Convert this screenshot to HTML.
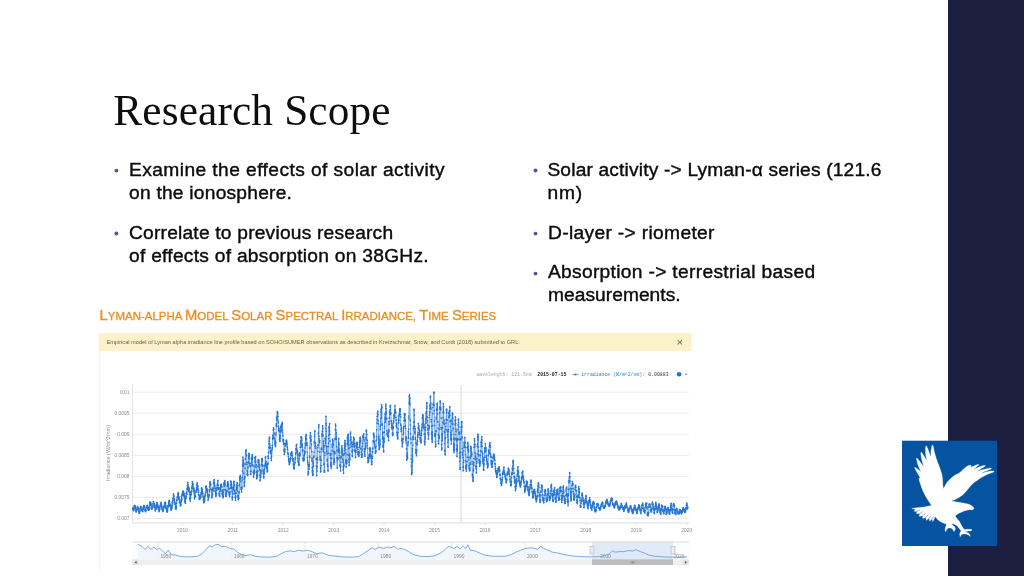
<!DOCTYPE html>
<html lang="en"><head><meta charset="utf-8"><title>Research Scope</title>
<style>
html,body{margin:0;padding:0;}
body{width:1024px;height:576px;overflow:hidden;background:#fff;position:relative;font-family:"Liberation Sans",sans-serif;color:#0a0a0a;}
.bar{position:absolute;left:948.2px;top:0;width:75.8px;height:576px;background:#1c1e3f;}
h1{position:absolute;left:113.3px;top:85.6px;margin:0;font:normal 43.3px/48px "Liberation Serif",serif;color:#0d0d0d;white-space:nowrap;letter-spacing:0.15px;}
.ln{position:absolute;white-space:nowrap;font-size:19.2px;line-height:23px;color:#0b0b0b;-webkit-text-stroke:0.4px #0b0b0b;}
.bl{position:absolute;width:3.8px;height:3.8px;border-radius:50%;background:#4f62a8;}
svg{position:absolute;left:0;top:0;}
</style></head><body>
<div class="bar"></div>
<h1>Research Scope</h1>
<div class="ln" id="l1" style="left:129.0px;top:157.85px;letter-spacing:0.422px">Examine the effects of solar activity</div>
<div class="ln" id="l2" style="left:129.0px;top:180.85px;letter-spacing:0.235px">on the ionosphere.</div>
<div class="ln" id="l3" style="left:129.0px;top:220.55px;letter-spacing:0.207px">Correlate to previous research</div>
<div class="ln" id="l4" style="left:129.0px;top:243.55px;letter-spacing:0.267px">of effects of absorption on 38GHz.</div>
<div class="ln" id="r1" style="left:547.4px;top:157.85px;letter-spacing:0.168px">Solar activity -&gt; Lyman-α series (121.6</div>
<div class="ln" id="r2" style="left:547.6px;top:180.85px;letter-spacing:0.7px">nm)</div>
<div class="ln" id="r3" style="left:548.0px;top:220.55px;letter-spacing:0.333px">D-layer -&gt; riometer</div>
<div class="ln" id="r4" style="left:547.9px;top:260.35px;letter-spacing:0.32px">Absorption -&gt; terrestrial based</div>
<div class="ln" id="r5" style="left:548.0px;top:283.35px;letter-spacing:0.033px">measurements.</div>

<svg width="1024" height="576" viewBox="0 0 1024 576">
<defs><filter id="soft" x="-2%" y="-5%" width="104%" height="110%"><feGaussianBlur stdDeviation="0.45"/></filter>
<filter id="soft2"><feGaussianBlur stdDeviation="0.35"/></filter></defs>
<g fill="#4c58a4"><circle cx="116.4" cy="170.6" r="1.95"/><circle cx="116.4" cy="233.5" r="1.95"/><circle cx="535.5" cy="170.5" r="1.95"/><circle cx="535.5" cy="233.6" r="1.95"/><circle cx="535.5" cy="273.6" r="1.95"/></g>
<!-- chart image frame -->
<rect x="99.2" y="351" width="1" height="220" fill="#f0f0f0"/>
<!-- chart heading -->
<g filter="url(#soft2)">
<text id="ct" x="99.6" y="320.4" font-family="Liberation Sans, sans-serif" fill="#e98e22" stroke="#e98e22" stroke-width="0.3" font-size="11px" textLength="396.6" lengthAdjust="spacingAndGlyphs"><tspan font-size="14.2px">L</tspan>YMAN-ALPHA <tspan font-size="14.2px">M</tspan>ODEL <tspan font-size="14.2px">S</tspan>OLAR <tspan font-size="14.2px">S</tspan>PECTRAL <tspan font-size="14.2px">I</tspan>RRADIANCE, <tspan font-size="14.2px">T</tspan>IME <tspan font-size="14.2px">S</tspan>ERIES</text>
<rect x="98.6" y="332.9" width="593" height="18.2" rx="1.5" fill="#fdf1c9"/>
<text x="106.4" y="343.6" font-family="Liberation Sans, sans-serif" font-size="5.4px" fill="#686352" textLength="413.5" lengthAdjust="spacingAndGlyphs">Empirical model of Lyman alpha irradiance line profile based on SOHO/SUMER observations as described in Kretzschmar, Snow, and Curdt (2018) submitted to GRL.</text>
<text x="679.8" y="345.9" text-anchor="middle" font-family="Liberation Sans, sans-serif" font-size="11px" fill="#6b6450">×</text>
</g>
<!-- legend -->
<g font-family="Liberation Mono, monospace" font-size="4.85px" filter="url(#soft2)">
<text x="476.4" y="376.1" fill="#a5a5a5">wavelength: 121.5nm</text>
<text x="537.3" y="376.1" fill="#222" font-weight="bold">2015-07-15</text>
<path d="M572.5 374.5h5.8" stroke="#2f7ed8" stroke-width="0.7"/><circle cx="575.4" cy="374.5" r="1" fill="#2f7ed8"/>
<text x="581.2" y="376.1" fill="#2f7ed8">irradiance (W/m^2/nm):</text>
<text x="648.2" y="376.1" fill="#333">0.00883</text>
<circle cx="679.1" cy="374.3" r="2.3" fill="#2a6fd0"/>
<path d="M685 374.2h2.4" stroke="#2a6fd0" stroke-width="0.8"/>
</g>
<!-- grid -->
<g stroke="#ececec" stroke-width="1"><line x1="132.5" x2="689" y1="392.2" y2="392.2"/><line x1="132.5" x2="689" y1="413.2" y2="413.2"/><line x1="132.5" x2="689" y1="434.3" y2="434.3"/><line x1="132.5" x2="689" y1="455.4" y2="455.4"/><line x1="132.5" x2="689" y1="476.4" y2="476.4"/><line x1="132.5" x2="689" y1="497.4" y2="497.4"/><line x1="132.5" x2="689" y1="518.5" y2="518.5"/></g>
<line x1="132.5" x2="132.5" y1="384" y2="523" stroke="#e2e4e8" stroke-width="1"/>
<line x1="132.5" x2="689" y1="523" y2="523" stroke="#dcdcdc" stroke-width="1"/>
<g stroke="#dcdcdc" stroke-width="0.8"><line x1="182.4" x2="182.4" y1="523" y2="525.5"/><line x1="232.8" x2="232.8" y1="523" y2="525.5"/><line x1="283.3" x2="283.3" y1="523" y2="525.5"/><line x1="333.7" x2="333.7" y1="523" y2="525.5"/><line x1="384.1" x2="384.1" y1="523" y2="525.5"/><line x1="434.6" x2="434.6" y1="523" y2="525.5"/><line x1="485.0" x2="485.0" y1="523" y2="525.5"/><line x1="535.4" x2="535.4" y1="523" y2="525.5"/><line x1="585.8" x2="585.8" y1="523" y2="525.5"/><line x1="636.3" x2="636.3" y1="523" y2="525.5"/><line x1="686.7" x2="686.7" y1="523" y2="525.5"/></g>
<line x1="461" x2="461" y1="385" y2="523" stroke="#cdcdcd" stroke-width="0.8"/>
<g font-family="Liberation Sans, sans-serif" font-size="4.9px" fill="#8a8a8a" filter="url(#soft2)"><text x="129.5" y="393.9" text-anchor="end">0.01</text><text x="129.5" y="414.9" text-anchor="end">0.0095</text><text x="129.5" y="436.0" text-anchor="end">0.009</text><text x="129.5" y="457.1" text-anchor="end">0.0085</text><text x="129.5" y="478.1" text-anchor="end">0.008</text><text x="129.5" y="499.1" text-anchor="end">0.0075</text><text x="129.5" y="520.2" text-anchor="end">0.007</text><text x="182.4" y="531.6" text-anchor="middle">2010</text><text x="232.8" y="531.6" text-anchor="middle">2011</text><text x="283.3" y="531.6" text-anchor="middle">2012</text><text x="333.7" y="531.6" text-anchor="middle">2013</text><text x="384.1" y="531.6" text-anchor="middle">2014</text><text x="434.6" y="531.6" text-anchor="middle">2015</text><text x="485.0" y="531.6" text-anchor="middle">2016</text><text x="535.4" y="531.6" text-anchor="middle">2017</text><text x="585.8" y="531.6" text-anchor="middle">2018</text><text x="636.3" y="531.6" text-anchor="middle">2019</text><text x="686.7" y="531.6" text-anchor="middle">2020</text>
<text transform="translate(110.3,481) rotate(-90)" textLength="56" lengthAdjust="spacingAndGlyphs">Irradiance (W/m^2/nm)</text></g>
<!-- main series -->
<g filter="url(#soft)"><polyline points="132.60,508.0 132.75,508.4 132.90,509.3 133.06,509.7 133.21,509.7 133.36,509.0 133.51,510.7 133.66,509.1 133.82,510.3 133.97,508.2 134.12,506.3 134.27,506.1 134.42,505.4 134.58,507.0 134.73,506.6 134.88,506.3 135.03,505.7 135.18,506.3 135.34,507.3 135.49,508.5 135.64,508.8 135.79,510.8 135.94,511.1 136.10,512.0 136.25,510.5 136.40,509.8 136.55,511.1 136.70,510.2 136.86,510.3 137.01,509.3 137.16,507.7 137.31,507.5 137.46,506.5 137.62,507.5 137.77,507.1 137.92,507.7 138.07,509.0 138.22,507.8 138.38,509.2 138.53,509.3 138.68,509.2 138.83,511.7 138.98,511.2 139.14,513.3 139.29,512.3 139.44,513.0 139.59,512.3 139.74,510.5 139.90,511.1 140.05,508.7 140.20,508.3 140.35,508.3 140.50,506.9 140.66,506.7 140.81,506.7 140.96,507.3 141.11,507.8 141.26,507.2 141.42,509.8 141.57,510.3 141.72,509.7 141.87,510.7 142.02,509.8 142.18,510.6 142.33,510.6 142.48,510.9 142.63,511.0 142.78,511.6 142.94,508.8 143.09,508.6 143.24,507.4 143.39,509.2 143.54,507.5 143.70,506.2 143.85,506.1 144.00,505.5 144.15,507.5 144.30,505.9 144.46,506.4 144.61,509.6 144.76,509.7 144.91,509.3 145.06,510.5 145.22,510.7 145.37,509.6 145.52,511.7 145.67,511.4 145.82,511.0 145.98,509.9 146.13,507.8 146.28,507.6 146.43,507.9 146.58,506.8 146.74,507.9 146.89,506.3 147.04,505.8 147.19,505.4 147.34,507.0 147.50,506.0 147.65,507.4 147.80,507.7 147.95,509.1 148.10,509.0 148.26,510.1 148.41,510.1 148.56,508.9 148.71,510.3 148.86,508.0 149.02,507.8 149.17,509.2 149.32,508.5 149.47,506.5 149.62,504.9 149.78,502.1 149.93,503.4 150.08,504.2 150.23,504.1 150.38,502.1 150.54,502.3 150.69,503.3 150.84,502.9 150.99,505.2 151.14,504.7 151.30,507.7 151.45,509.0 151.60,508.5 151.75,506.9 151.90,507.2 152.06,509.0 152.21,507.4 152.36,507.4 152.51,507.0 152.66,507.5 152.82,506.0 152.97,504.0 153.12,503.4 153.27,503.2 153.42,501.6 153.58,502.0 153.73,503.2 153.88,503.3 154.03,505.2 154.18,505.5 154.34,503.9 154.49,506.9 154.64,505.3 154.79,507.3 154.94,507.7 155.10,509.8 155.25,510.8 155.40,510.0 155.55,507.7 155.70,509.6 155.86,509.0 156.01,507.2 156.16,507.9 156.31,506.2 156.46,505.2 156.62,504.4 156.77,502.5 156.92,503.2 157.07,502.8 157.22,503.7 157.38,505.6 157.53,506.4 157.68,504.9 157.83,506.9 157.98,505.5 158.14,508.2 158.29,506.9 158.44,509.5 158.59,509.7 158.74,508.6 158.90,510.1 159.05,511.6 159.20,510.9 159.35,510.5 159.50,509.9 159.66,507.8 159.81,509.0 159.96,506.3 160.11,506.2 160.26,505.5 160.42,505.0 160.57,504.6 160.72,503.7 160.87,503.0 161.02,502.4 161.18,502.7 161.33,505.0 161.48,505.4 161.63,505.2 161.78,506.7 161.94,508.4 162.09,507.8 162.24,509.8 162.39,510.0 162.54,510.2 162.70,510.0 162.85,509.6 163.00,511.5 163.15,509.4 163.30,510.8 163.46,509.3 163.61,507.2 163.76,507.2 163.91,506.6 164.06,507.7 164.22,505.9 164.37,506.5 164.52,503.9 164.67,503.3 164.82,503.1 164.98,502.8 165.13,502.1 165.28,502.9 165.43,502.3 165.58,503.9 165.74,505.7 165.89,507.0 166.04,508.4 166.19,507.1 166.34,507.1 166.50,509.4 166.65,510.7 166.80,510.9 166.95,512.0 167.10,511.2 167.26,512.0 167.41,511.2 167.56,510.4 167.71,508.6 167.86,505.6 168.02,506.0 168.17,507.0 168.32,505.8 168.47,505.4 168.62,502.4 168.78,504.0 168.93,502.6 169.08,500.4 169.23,500.7 169.38,500.9 169.54,501.3 169.69,504.9 169.84,503.8 169.99,505.8 170.14,506.3 170.30,504.9 170.45,505.9 170.60,506.7 170.75,506.2 170.90,507.8 171.06,510.1 171.21,509.1 171.36,509.9 171.51,508.1 171.66,507.3 171.82,508.6 171.97,505.5 172.12,506.0 172.27,502.2 172.42,504.0 172.58,501.9 172.73,500.9 172.88,498.3 173.03,498.6 173.18,498.2 173.34,498.1 173.49,493.8 173.64,495.7 173.79,495.3 173.94,496.3 174.10,499.7 174.25,500.4 174.40,499.2 174.55,502.9 174.70,501.9 174.86,502.9 175.01,504.5 175.16,504.5 175.31,503.6 175.46,507.8 175.62,509.0 175.77,506.6 175.92,506.3 176.07,509.1 176.22,507.4 176.38,506.4 176.53,503.2 176.68,499.7 176.83,500.4 176.98,500.4 177.14,497.3 177.29,496.8 177.44,496.9 177.59,497.7 177.74,494.5 177.90,493.8 178.05,493.7 178.20,492.7 178.35,496.4 178.50,494.3 178.66,499.1 178.81,496.5 178.96,497.2 179.11,498.0 179.26,499.3 179.42,502.5 179.57,501.0 179.72,502.1 179.87,502.0 180.02,502.5 180.18,502.9 180.33,505.8 180.48,504.3 180.63,504.2 180.78,504.4 180.94,504.9 181.09,499.8 181.24,501.8 181.39,499.5 181.54,496.5 181.70,500.1 181.85,499.0 182.00,495.3 182.15,494.0 182.30,495.2 182.46,494.0 182.61,493.1 182.76,491.4 182.91,492.3 183.06,493.2 183.22,491.0 183.37,491.6 183.52,494.9 183.67,492.6 183.82,495.8 183.98,494.5 184.13,493.8 184.28,496.3 184.43,497.9 184.58,498.1 184.74,497.9 184.89,501.5 185.04,498.9 185.19,502.7 185.34,500.5 185.50,503.3 185.65,497.7 185.80,498.4 185.95,495.9 186.10,497.4 186.26,493.6 186.41,493.3 186.56,492.1 186.71,494.2 186.86,494.2 187.02,488.7 187.17,488.4 187.32,489.6 187.47,485.4 187.62,487.7 187.78,482.3 187.93,484.3 188.08,487.8 188.23,489.6 188.38,487.1 188.54,491.4 188.69,487.2 188.84,489.7 188.99,490.0 189.14,488.8 189.30,491.6 189.45,491.9 189.60,494.1 189.75,498.8 189.90,498.0 190.06,498.7 190.21,501.1 190.36,497.7 190.51,494.8 190.66,497.8 190.82,492.5 190.97,491.9 191.12,492.1 191.27,494.7 191.42,490.9 191.58,491.6 191.73,491.0 191.88,487.3 192.03,488.4 192.18,486.1 192.34,481.7 192.49,483.5 192.64,486.0 192.79,483.1 192.94,485.2 193.10,484.8 193.25,488.5 193.40,489.4 193.55,487.8 193.70,488.5 193.86,488.0 194.01,492.3 194.16,490.2 194.31,493.8 194.46,497.3 194.62,498.8 194.77,495.1 194.92,497.3 195.07,496.7 195.22,495.9 195.38,496.2 195.53,496.0 195.68,491.8 195.83,492.0 195.98,491.9 196.14,490.4 196.29,489.9 196.44,491.8 196.59,487.8 196.74,489.4 196.90,484.6 197.05,485.6 197.20,482.8 197.35,486.4 197.50,487.6 197.66,485.7 197.81,486.1 197.96,488.9 198.11,488.8 198.26,490.0 198.42,492.3 198.57,490.7 198.72,494.5 198.87,495.0 199.02,495.8 199.18,498.9 199.33,498.3 199.48,499.3 199.63,498.6 199.78,498.3 199.94,499.0 200.09,496.5 200.24,497.9 200.39,495.4 200.54,497.6 200.70,495.3 200.85,497.3 201.00,494.6 201.15,492.6 201.30,493.3 201.46,488.7 201.61,487.8 201.76,490.6 201.91,490.4 202.06,491.3 202.22,489.1 202.37,491.6 202.52,493.9 202.67,493.3 202.82,493.5 202.98,493.3 203.13,496.9 203.28,496.1 203.43,499.7 203.58,497.6 203.74,502.7 203.89,499.7 204.04,501.4 204.19,502.0 204.34,499.1 204.50,498.4 204.65,500.2 204.80,496.5 204.95,496.8 205.10,495.8 205.26,494.1 205.41,495.2 205.56,492.1 205.71,487.8 205.86,486.5 206.02,487.4 206.17,486.1 206.32,487.7 206.47,488.8 206.62,488.6 206.78,489.9 206.93,488.8 207.08,491.9 207.23,489.9 207.38,490.7 207.54,493.4 207.69,495.0 207.84,494.8 207.99,496.4 208.14,500.2 208.30,496.8 208.45,497.5 208.60,495.1 208.75,497.8 208.90,495.9 209.06,495.9 209.21,494.9 209.36,489.7 209.51,491.5 209.66,487.1 209.82,484.1 209.97,483.0 210.12,481.6 210.27,485.5 210.42,483.1 210.58,484.5 210.73,484.7 210.88,489.1 211.03,489.7 211.18,489.8 211.34,489.3 211.49,489.8 211.64,492.7 211.79,496.0 211.94,497.8 212.10,495.5 212.25,494.5 212.40,494.8 212.55,494.3 212.70,489.9 212.86,488.1 213.01,488.2 213.16,490.9 213.31,488.1 213.46,483.3 213.62,482.5 213.77,482.2 213.92,483.5 214.07,479.9 214.22,479.7 214.38,482.5 214.53,484.0 214.68,486.5 214.83,485.8 214.98,488.1 215.14,491.3 215.29,488.3 215.44,492.1 215.59,494.8 215.74,493.7 215.90,496.5 216.05,495.1 216.20,494.6 216.35,494.3 216.50,493.5 216.66,490.3 216.81,487.7 216.96,489.8 217.11,487.9 217.26,484.5 217.42,485.5 217.57,484.1 217.72,480.4 217.87,480.8 218.02,484.5 218.18,485.4 218.33,487.8 218.48,487.8 218.63,489.2 218.78,488.2 218.94,488.6 219.09,493.4 219.24,495.3 219.39,493.8 219.54,495.8 219.70,496.4 219.85,496.1 220.00,491.6 220.15,488.1 220.30,487.5 220.46,489.9 220.61,485.7 220.76,484.9 220.91,487.1 221.06,484.7 221.22,485.2 221.37,484.2 221.52,485.3 221.67,486.6 221.82,486.9 221.98,490.9 222.13,494.0 222.28,490.2 222.43,495.8 222.58,492.0 222.74,492.2 222.89,496.4 223.04,497.7 223.19,496.8 223.34,496.8 223.50,494.7 223.65,492.1 223.80,489.8 223.95,484.2 224.10,482.4 224.26,486.2 224.41,485.8 224.56,482.3 224.71,480.7 224.86,481.3 225.02,483.6 225.17,484.5 225.32,489.7 225.47,490.3 225.62,493.7 225.78,495.5 225.93,494.6 226.08,496.5 226.23,496.3 226.38,493.9 226.54,493.0 226.69,492.1 226.84,490.3 226.99,491.3 227.14,486.1 227.30,485.5 227.45,482.8 227.60,484.4 227.75,485.3 227.90,481.7 228.06,483.5 228.21,484.6 228.36,486.3 228.51,488.3 228.66,489.0 228.82,492.2 228.97,493.1 229.12,494.0 229.27,495.1 229.42,495.5 229.58,496.6 229.73,493.7 229.88,494.3 230.03,492.2 230.18,488.2 230.34,488.2 230.49,484.6 230.64,481.2 230.79,481.3 230.94,481.3 231.10,481.5 231.25,483.1 231.40,487.2 231.55,484.7 231.70,487.2 231.86,488.7 232.01,491.6 232.16,497.2 232.31,499.8 232.46,497.0 232.62,497.8 232.77,494.0 232.92,493.4 233.07,489.8 233.22,487.5 233.38,489.8 233.53,485.9 233.68,483.1 233.83,482.1 233.98,482.1 234.14,481.4 234.29,485.2 234.44,484.9 234.59,490.7 234.74,491.6 234.90,493.3 235.05,494.1 235.20,497.1 235.35,497.7 235.50,500.3 235.66,497.2 235.81,496.3 235.96,493.1 236.11,493.1 236.26,489.8 236.42,486.9 236.57,488.7 236.72,485.2 236.87,485.0 237.02,482.6 237.18,483.1 237.33,485.6 237.48,488.1 237.63,491.0 237.78,495.8 237.94,496.1 238.09,497.7 238.24,499.6 238.39,495.3 238.54,497.8 238.70,497.9 238.85,498.2 239.00,492.9 239.15,491.8 239.30,485.7 239.46,484.0 239.61,477.8 239.76,480.0 239.91,477.8 240.06,476.1 240.22,477.7 240.37,475.3 240.52,478.5 240.67,478.3 240.82,481.6 240.98,487.6 241.13,489.4 241.28,489.6 241.43,488.5 241.58,492.0 241.74,487.5 241.89,488.4 242.04,487.1 242.19,480.0 242.34,477.3 242.50,471.4 242.65,466.1 242.80,464.4 242.95,457.1 243.10,465.8 243.26,460.4 243.41,459.8 243.56,466.3 243.71,463.0 243.86,473.4 244.02,479.1 244.17,482.9 244.32,486.4 244.47,485.3 244.62,481.4 244.78,478.5 244.93,476.9 245.08,468.4 245.23,464.1 245.38,458.7 245.54,453.6 245.69,451.7 245.84,451.6 245.99,450.6 246.14,449.8 246.30,455.8 246.45,455.4 246.60,455.3 246.75,462.4 246.90,464.3 247.06,470.5 247.21,474.5 247.36,473.8 247.51,471.8 247.66,475.4 247.82,474.3 247.97,467.9 248.12,467.1 248.27,462.7 248.42,462.0 248.58,458.2 248.73,456.6 248.88,453.3 249.03,456.5 249.18,455.3 249.34,453.9 249.49,458.6 249.64,463.3 249.79,465.3 249.94,466.1 250.10,465.6 250.25,466.2 250.40,471.1 250.55,474.5 250.70,474.6 250.86,474.1 251.01,471.5 251.16,465.3 251.31,463.6 251.46,458.8 251.62,457.3 251.77,462.6 251.92,457.8 252.07,459.4 252.22,454.6 252.38,455.9 252.53,457.7 252.68,464.8 252.83,465.8 252.98,465.9 253.14,472.0 253.29,472.4 253.44,472.5 253.59,477.1 253.74,474.8 253.90,472.9 254.05,473.4 254.20,470.2 254.35,472.1 254.50,470.5 254.66,466.4 254.81,457.7 254.96,457.9 255.11,457.3 255.26,461.7 255.42,462.2 255.57,456.5 255.72,461.3 255.87,464.3 256.02,467.3 256.18,464.6 256.33,472.6 256.48,471.7 256.63,477.7 256.78,478.7 256.94,472.6 257.09,475.7 257.24,476.2 257.39,476.8 257.54,474.9 257.70,471.2 257.85,470.6 258.00,466.4 258.15,459.7 258.30,462.6 258.46,461.1 258.61,460.2 258.76,462.9 258.91,460.3 259.06,465.0 259.22,464.5 259.37,467.8 259.52,466.7 259.67,469.7 259.82,475.3 259.98,480.1 260.13,480.7 260.28,480.6 260.43,475.4 260.58,477.3 260.74,476.8 260.89,470.3 261.04,473.7 261.19,471.5 261.34,464.9 261.50,464.3 261.65,458.5 261.80,460.4 261.95,458.4 262.10,461.5 262.26,459.7 262.41,465.6 262.56,464.8 262.71,466.4 262.86,465.3 263.02,470.0 263.17,471.5 263.32,473.7 263.47,473.1 263.62,476.4 263.78,477.9 263.93,474.0 264.08,473.2 264.23,469.5 264.38,473.4 264.54,469.2 264.69,466.7 264.84,465.9 264.99,465.4 265.14,464.1 265.30,457.8 265.45,457.6 265.60,456.9 265.75,461.8 265.90,463.7 266.06,461.3 266.21,464.4 266.36,467.4 266.51,465.7 266.66,468.2 266.82,466.2 266.97,466.2 267.12,471.8 267.27,467.6 267.42,469.1 267.58,470.8 267.73,463.8 267.88,464.4 268.03,463.0 268.18,456.1 268.34,458.2 268.49,452.4 268.64,452.7 268.79,447.7 268.94,443.7 269.10,441.2 269.25,438.9 269.40,437.0 269.55,438.4 269.70,443.9 269.86,445.8 270.01,448.2 270.16,447.1 270.31,451.4 270.46,450.9 270.62,450.3 270.77,452.9 270.92,452.7 271.07,453.7 271.22,458.2 271.38,460.3 271.53,456.4 271.68,453.6 271.83,450.8 271.98,449.1 272.14,449.1 272.29,447.6 272.44,445.4 272.59,439.1 272.74,437.8 272.90,435.4 273.05,438.5 273.20,435.6 273.35,429.9 273.50,427.8 273.66,429.5 273.81,429.2 273.96,433.8 274.11,433.1 274.26,438.8 274.42,439.0 274.57,438.3 274.72,438.3 274.87,443.9 275.02,440.8 275.18,441.0 275.33,445.4 275.48,443.3 275.63,446.4 275.78,442.7 275.94,434.9 276.09,433.1 276.24,425.5 276.39,423.9 276.54,426.2 276.70,417.4 276.85,419.8 277.00,416.1 277.15,419.3 277.30,411.6 277.46,413.8 277.61,412.6 277.76,413.1 277.91,416.3 278.06,420.8 278.22,422.7 278.37,426.4 278.52,429.8 278.67,429.2 278.82,431.0 278.98,428.0 279.13,431.2 279.28,431.7 279.43,439.4 279.58,435.1 279.74,437.5 279.89,441.4 280.04,440.4 280.19,435.6 280.34,438.1 280.50,431.2 280.65,431.9 280.80,427.2 280.95,426.2 281.10,431.2 281.26,428.7 281.41,424.9 281.56,429.8 281.71,424.8 281.86,424.2 282.02,426.7 282.17,422.3 282.32,423.4 282.47,430.3 282.62,432.8 282.78,435.7 282.93,435.8 283.08,441.5 283.23,439.4 283.38,440.5 283.54,439.7 283.69,444.2 283.84,443.1 283.99,449.8 284.14,451.0 284.30,454.3 284.45,449.3 284.60,450.5 284.75,449.3 284.90,452.0 285.06,445.8 285.21,445.5 285.36,443.4 285.51,445.4 285.66,445.0 285.82,444.2 285.97,443.6 286.12,441.1 286.27,440.5 286.42,441.5 286.58,440.1 286.73,441.9 286.88,442.9 287.03,444.4 287.18,446.5 287.34,447.6 287.49,449.3 287.64,449.8 287.79,452.6 287.94,454.1 288.10,453.8 288.25,454.3 288.40,456.7 288.55,460.3 288.70,460.6 288.86,458.6 289.01,461.8 289.16,462.4 289.31,464.4 289.46,462.2 289.62,463.7 289.77,461.1 289.92,461.6 290.07,461.4 290.22,459.1 290.38,459.5 290.53,457.8 290.68,458.3 290.83,454.7 290.98,453.1 291.14,454.6 291.29,455.3 291.44,452.0 291.59,453.8 291.74,451.8 291.90,453.0 292.05,453.4 292.20,455.9 292.35,455.9 292.50,459.6 292.66,458.4 292.81,458.3 292.96,460.2 293.11,458.7 293.26,461.2 293.42,465.3 293.57,463.8 293.72,468.6 293.87,464.9 294.02,467.6 294.18,468.6 294.33,468.8 294.48,464.8 294.63,462.5 294.78,462.2 294.94,463.0 295.09,459.6 295.24,457.9 295.39,457.8 295.54,458.1 295.70,453.8 295.85,452.6 296.00,448.6 296.15,449.7 296.30,445.6 296.46,448.3 296.61,444.4 296.76,449.1 296.91,452.5 297.06,450.5 297.22,450.5 297.37,452.8 297.52,451.3 297.67,454.9 297.82,458.6 297.98,454.0 298.13,460.9 298.28,462.2 298.43,461.2 298.58,464.8 298.74,462.8 298.89,464.9 299.04,464.5 299.19,465.2 299.34,459.0 299.50,455.6 299.65,453.5 299.80,452.8 299.95,456.1 300.10,454.4 300.26,447.3 300.41,446.9 300.56,444.2 300.71,441.1 300.86,443.4 301.02,437.4 301.17,436.7 301.32,440.3 301.47,441.6 301.62,440.6 301.78,437.9 301.93,445.6 302.08,447.2 302.23,444.2 302.38,450.3 302.54,451.7 302.69,449.3 302.84,450.8 302.99,458.2 303.14,460.4 303.30,458.0 303.45,459.6 303.60,460.9 303.75,458.9 303.90,459.4 304.06,455.4 304.21,459.9 304.36,454.4 304.51,453.8 304.66,451.0 304.82,452.0 304.97,453.5 305.12,447.9 305.27,443.2 305.42,445.7 305.58,436.4 305.73,438.9 305.88,439.7 306.03,439.6 306.18,434.3 306.34,435.2 306.49,438.7 306.64,444.0 306.79,442.4 306.94,443.8 307.10,445.2 307.25,452.0 307.40,457.7 307.55,460.8 307.70,462.2 307.86,464.1 308.01,474.8 308.16,474.6 308.31,473.8 308.46,472.2 308.62,465.9 308.77,465.6 308.92,469.2 309.07,464.1 309.22,466.2 309.38,464.8 309.53,456.0 309.68,457.2 309.83,448.6 309.98,447.1 310.14,437.8 310.29,435.6 310.44,432.6 310.59,441.4 310.74,441.3 310.90,435.9 311.05,439.9 311.20,443.8 311.35,444.3 311.50,444.5 311.66,451.5 311.81,451.6 311.96,460.9 312.11,458.0 312.26,472.1 312.42,467.0 312.57,475.2 312.72,470.6 312.87,475.3 313.02,474.3 313.18,462.0 313.33,463.2 313.48,466.4 313.63,456.3 313.78,457.3 313.94,456.0 314.09,452.3 314.24,442.4 314.39,441.3 314.54,436.1 314.70,430.8 314.85,431.3 315.00,443.1 315.15,442.7 315.30,446.6 315.46,443.7 315.61,446.3 315.76,446.4 315.91,448.4 316.06,459.4 316.22,458.8 316.37,466.0 316.52,468.4 316.67,475.6 316.82,470.6 316.98,470.9 317.13,466.7 317.28,462.6 317.43,457.4 317.58,459.7 317.74,451.4 317.89,447.6 318.04,444.9 318.19,445.4 318.34,433.0 318.50,433.0 318.65,426.9 318.80,424.7 318.95,436.1 319.10,438.8 319.26,441.0 319.41,442.7 319.56,441.1 319.71,440.7 319.86,451.9 320.02,459.8 320.17,456.5 320.32,460.0 320.47,472.0 320.62,467.9 320.78,471.5 320.93,471.6 321.08,465.5 321.23,460.1 321.38,449.2 321.54,448.2 321.69,448.8 321.84,449.3 321.99,433.8 322.14,436.1 322.30,431.4 322.45,431.6 322.60,425.8 322.75,426.1 322.90,428.4 323.06,435.5 323.21,451.7 323.36,441.2 323.51,446.1 323.66,446.9 323.82,464.3 323.97,463.9 324.12,472.0 324.27,471.2 324.42,470.8 324.58,472.1 324.73,455.3 324.88,452.9 325.03,445.7 325.18,438.2 325.34,440.6 325.49,443.3 325.64,439.3 325.79,428.6 325.94,416.3 326.10,423.4 326.25,425.5 326.40,431.1 326.55,436.5 326.70,451.8 326.86,446.4 327.01,454.0 327.16,459.4 327.31,461.2 327.46,464.3 327.62,466.4 327.77,465.7 327.92,470.3 328.07,470.9 328.22,453.0 328.38,446.4 328.53,443.2 328.68,438.7 328.83,435.3 328.98,427.8 329.14,426.3 329.29,434.5 329.44,430.9 329.59,423.6 329.74,434.3 329.90,441.1 330.05,441.0 330.20,453.7 330.35,455.2 330.50,457.9 330.66,462.6 330.81,465.7 330.96,464.0 331.11,466.3 331.26,468.3 331.42,465.8 331.57,464.1 331.72,458.4 331.87,454.0 332.02,450.7 332.18,444.5 332.33,447.3 332.48,439.4 332.63,439.1 332.78,444.0 332.94,444.7 333.09,440.6 333.24,445.1 333.39,451.5 333.54,451.6 333.70,462.2 333.85,462.5 334.00,464.3 334.15,458.8 334.30,461.1 334.46,462.3 334.61,453.4 334.76,451.8 334.91,453.6 335.06,438.7 335.22,439.5 335.37,429.5 335.52,424.0 335.67,425.8 335.82,430.4 335.98,430.3 336.13,438.1 336.28,432.9 336.43,439.3 336.58,446.4 336.74,450.5 336.89,458.0 337.04,457.6 337.19,468.1 337.34,460.5 337.50,459.6 337.65,459.2 337.80,457.9 337.95,459.2 338.10,449.3 338.26,451.8 338.41,447.4 338.56,442.7 338.71,438.4 338.86,443.4 339.02,444.9 339.17,449.0 339.32,450.8 339.47,452.6 339.62,455.6 339.78,457.8 339.93,465.3 340.08,464.8 340.23,466.6 340.38,467.1 340.54,471.0 340.69,466.1 340.84,462.1 340.99,457.9 341.14,457.2 341.30,456.6 341.45,452.7 341.60,451.2 341.75,445.8 341.90,449.5 342.06,448.0 342.21,450.8 342.36,451.3 342.51,454.1 342.66,455.2 342.82,459.1 342.97,460.6 343.12,462.3 343.27,469.9 343.42,466.7 343.58,473.3 343.73,464.1 343.88,465.9 344.03,454.7 344.18,453.6 344.34,450.8 344.49,445.0 344.64,448.1 344.79,443.2 344.94,440.7 345.10,440.6 345.25,443.6 345.40,446.1 345.55,449.7 345.70,453.1 345.86,463.0 346.01,460.2 346.16,467.2 346.31,461.2 346.46,462.1 346.62,461.8 346.77,463.4 346.92,460.7 347.07,454.7 347.22,443.9 347.38,437.4 347.53,440.2 347.68,435.1 347.83,443.2 347.98,435.8 348.14,443.6 348.29,434.3 348.44,445.4 348.59,448.7 348.74,455.3 348.90,459.5 349.05,462.1 349.20,465.4 349.35,459.0 349.50,458.1 349.66,454.1 349.81,460.0 349.96,447.5 350.11,444.5 350.26,440.4 350.42,433.6 350.57,432.1 350.72,436.8 350.87,437.3 351.02,439.0 351.18,443.1 351.33,441.8 351.48,446.2 351.63,446.4 351.78,446.4 351.94,451.2 352.09,451.8 352.24,455.7 352.39,456.6 352.54,451.0 352.70,450.2 352.85,444.3 353.00,446.6 353.15,442.4 353.30,444.3 353.46,440.9 353.61,437.0 353.76,438.3 353.91,438.5 354.06,439.6 354.22,438.9 354.37,446.8 354.52,442.9 354.67,450.0 354.82,450.8 354.98,451.3 355.13,449.9 355.28,451.6 355.43,457.6 355.58,457.1 355.74,450.3 355.89,452.3 356.04,445.6 356.19,445.2 356.34,443.6 356.50,448.0 356.65,446.5 356.80,443.4 356.95,442.2 357.10,443.3 357.26,444.3 357.41,443.1 357.56,447.6 357.71,449.5 357.86,454.4 358.02,454.3 358.17,451.9 358.32,451.9 358.47,455.1 358.62,456.2 358.78,453.5 358.93,456.1 359.08,453.1 359.23,452.2 359.38,447.2 359.54,442.6 359.69,445.1 359.84,440.9 359.99,438.8 360.14,437.1 360.30,442.0 360.45,440.1 360.60,439.1 360.75,440.8 360.90,448.9 361.06,448.0 361.21,452.1 361.36,454.5 361.51,457.2 361.66,455.6 361.82,454.0 361.97,457.1 362.12,453.9 362.27,450.0 362.42,446.3 362.58,443.4 362.73,437.3 362.88,436.1 363.03,435.6 363.18,437.7 363.34,436.9 363.49,435.8 363.64,433.9 363.79,437.5 363.94,439.5 364.10,441.0 364.25,448.7 364.40,451.4 364.55,456.2 364.70,451.3 364.86,456.2 365.01,449.8 365.16,449.3 365.31,448.9 365.46,448.5 365.62,443.4 365.77,446.9 365.92,438.8 366.07,437.4 366.22,430.2 366.38,430.9 366.53,431.1 366.68,434.0 366.83,434.4 366.98,440.5 367.14,440.0 367.29,443.0 367.44,445.5 367.59,448.3 367.74,457.5 367.90,458.3 368.05,462.6 368.20,460.2 368.35,462.1 368.50,460.4 368.66,461.1 368.81,457.9 368.96,458.4 369.11,454.9 369.26,456.4 369.42,454.4 369.57,449.0 369.72,448.9 369.87,447.7 370.02,448.9 370.18,448.6 370.33,449.4 370.48,451.1 370.63,455.4 370.78,454.1 370.94,457.2 371.09,458.2 371.24,455.7 371.39,461.0 371.54,464.2 371.70,461.4 371.85,464.6 372.00,458.5 372.15,458.6 372.30,456.6 372.46,452.3 372.61,451.5 372.76,448.8 372.91,448.0 373.06,441.1 373.22,440.9 373.37,441.4 373.52,434.5 373.67,433.2 373.82,435.4 373.98,435.9 374.13,437.0 374.28,442.9 374.43,441.5 374.58,441.3 374.74,444.4 374.89,446.3 375.04,447.0 375.19,448.1 375.34,453.1 375.50,452.4 375.65,453.1 375.80,450.5 375.95,451.4 376.10,446.5 376.26,440.6 376.41,440.1 376.56,436.5 376.71,429.8 376.86,423.0 377.02,419.6 377.17,416.6 377.32,416.6 377.47,413.1 377.62,414.7 377.78,411.0 377.93,414.5 378.08,420.9 378.23,423.7 378.38,439.0 378.54,438.2 378.69,443.3 378.84,436.0 378.99,445.1 379.14,449.6 379.30,444.9 379.45,448.6 379.60,447.2 379.75,447.3 379.90,440.1 380.06,444.6 380.21,426.0 380.36,429.3 380.51,424.6 380.66,421.3 380.82,418.7 380.97,412.2 381.12,409.3 381.27,417.9 381.42,408.3 381.58,404.6 381.73,408.0 381.88,406.6 382.03,423.3 382.18,425.2 382.34,424.5 382.49,439.0 382.64,432.8 382.79,432.0 382.94,446.1 383.10,447.2 383.25,437.4 383.40,445.1 383.55,450.7 383.70,451.8 383.86,441.2 384.01,438.3 384.16,442.2 384.31,432.2 384.46,428.3 384.62,426.1 384.77,422.5 384.92,418.0 385.07,413.9 385.22,422.4 385.38,419.6 385.53,412.6 385.68,405.8 385.83,404.0 385.98,408.4 386.14,408.5 386.29,411.6 386.44,413.5 386.59,418.0 386.74,418.8 386.90,430.6 387.05,433.4 387.20,435.3 387.35,434.6 387.50,434.4 387.66,436.2 387.81,432.4 387.96,435.5 388.11,436.3 388.26,435.5 388.42,436.8 388.57,440.7 388.72,429.8 388.87,431.7 389.02,421.4 389.18,424.4 389.33,418.2 389.48,417.6 389.63,411.9 389.78,414.5 389.94,409.9 390.09,414.4 390.24,406.9 390.39,405.4 390.54,405.5 390.70,412.8 390.85,413.2 391.00,413.3 391.15,420.5 391.30,421.5 391.46,423.6 391.61,427.1 391.76,427.4 391.91,423.5 392.06,428.9 392.22,425.7 392.37,433.9 392.52,434.0 392.67,435.5 392.82,432.8 392.98,434.5 393.13,428.5 393.28,427.2 393.43,420.8 393.58,422.7 393.74,421.3 393.89,415.4 394.04,414.7 394.19,418.6 394.34,416.1 394.50,415.3 394.65,412.9 394.80,412.2 394.95,405.6 395.10,410.8 395.26,409.5 395.41,412.9 395.56,412.5 395.71,411.9 395.86,417.3 396.02,420.2 396.17,420.1 396.32,426.4 396.47,423.4 396.62,424.3 396.78,427.3 396.93,432.3 397.08,433.1 397.23,436.0 397.38,433.1 397.54,434.9 397.69,439.0 397.84,437.7 397.99,432.2 398.14,428.9 398.30,422.7 398.45,419.5 398.60,416.0 398.75,422.8 398.90,420.2 399.06,415.1 399.21,415.6 399.36,413.0 399.51,414.6 399.66,410.1 399.82,408.6 399.97,411.2 400.12,409.4 400.27,408.9 400.42,414.5 400.58,416.8 400.73,424.1 400.88,425.4 401.03,425.7 401.18,429.4 401.34,431.4 401.49,427.7 401.64,430.9 401.79,440.7 401.94,440.7 402.10,438.7 402.25,446.7 402.40,443.4 402.55,443.0 402.70,442.5 402.86,441.7 403.01,438.9 403.16,439.1 403.31,434.4 403.46,428.2 403.62,432.8 403.77,426.6 403.92,426.6 404.07,420.5 404.22,417.5 404.38,413.9 404.53,415.1 404.68,419.5 404.83,413.6 404.98,414.7 405.14,419.9 405.29,421.2 405.44,425.9 405.59,428.5 405.74,437.4 405.90,439.1 406.05,440.9 406.20,436.9 406.35,443.1 406.50,448.9 406.66,448.8 406.81,460.1 406.96,455.7 407.11,456.8 407.26,453.2 407.42,457.1 407.57,458.5 407.72,444.8 407.87,445.3 408.02,443.0 408.18,441.8 408.33,431.5 408.48,438.2 408.63,429.2 408.78,418.0 408.94,416.0 409.09,403.4 409.24,396.3 409.39,402.3 409.54,394.9 409.70,404.3 409.85,397.7 410.00,404.8 410.15,419.8 410.30,420.6 410.46,425.0 410.61,433.8 410.76,438.2 410.91,439.3 411.06,442.8 411.22,459.0 411.37,465.9 411.52,473.9 411.67,474.4 411.82,474.1 411.98,462.1 412.13,472.5 412.28,455.8 412.43,448.8 412.58,461.0 412.74,445.2 412.89,436.3 413.04,437.3 413.19,439.5 413.34,428.6 413.50,426.6 413.65,426.4 413.80,422.2 413.95,409.2 414.10,409.9 414.26,415.0 414.41,421.6 414.56,426.3 414.71,426.8 414.86,433.4 415.02,432.1 415.17,428.5 415.32,439.2 415.47,437.5 415.62,443.0 415.78,449.7 415.93,453.5 416.08,452.0 416.23,451.2 416.38,451.8 416.54,455.7 416.69,450.2 416.84,444.5 416.99,442.6 417.14,444.7 417.30,440.2 417.45,441.2 417.60,435.9 417.75,437.4 417.90,434.7 418.06,432.7 418.21,428.4 418.36,423.3 418.51,427.6 418.66,426.5 418.82,425.9 418.97,429.2 419.12,429.0 419.27,429.3 419.42,434.1 419.58,432.1 419.73,430.5 419.88,435.1 420.03,437.8 420.18,438.8 420.34,441.0 420.49,437.9 420.64,441.3 420.79,439.4 420.94,442.8 421.10,441.3 421.25,435.4 421.40,433.2 421.55,435.0 421.70,427.7 421.86,430.7 422.01,424.1 422.16,427.1 422.31,417.8 422.46,418.3 422.62,414.6 422.77,418.5 422.92,417.1 423.07,415.4 423.22,419.3 423.38,423.1 423.53,421.0 423.68,425.9 423.83,428.6 423.98,424.3 424.14,427.2 424.29,434.2 424.44,441.1 424.59,442.7 424.74,441.6 424.90,444.7 425.05,433.3 425.20,439.0 425.35,429.7 425.50,430.6 425.66,427.4 425.81,419.2 425.96,423.3 426.11,413.0 426.26,418.1 426.42,411.9 426.57,408.3 426.72,403.7 426.87,402.5 427.02,406.6 427.18,416.8 427.33,421.0 427.48,420.7 427.63,425.2 427.78,428.6 427.94,429.9 428.09,432.6 428.24,434.1 428.39,438.9 428.54,433.2 428.70,435.1 428.85,430.0 429.00,425.7 429.15,428.2 429.30,417.5 429.46,415.0 429.61,411.5 429.76,412.7 429.91,405.0 430.06,408.6 430.22,397.1 430.37,397.2 430.52,396.0 430.67,408.0 430.82,403.0 430.98,409.1 431.13,419.6 431.28,421.7 431.43,426.1 431.58,432.3 431.74,434.2 431.89,438.6 432.04,431.9 432.19,442.2 432.34,440.0 432.50,435.8 432.65,425.7 432.80,413.6 432.95,407.5 433.10,404.7 433.26,404.4 433.41,403.4 433.56,403.8 433.71,392.3 433.86,393.1 434.02,392.0 434.17,405.4 434.32,410.6 434.47,421.2 434.62,425.3 434.78,434.1 434.93,435.2 435.08,436.3 435.23,433.8 435.38,441.7 435.54,446.8 435.69,446.6 435.84,444.4 435.99,430.6 436.14,431.7 436.30,417.4 436.45,419.2 436.60,409.2 436.75,410.2 436.90,410.1 437.06,403.9 437.21,408.4 437.36,403.1 437.51,409.3 437.66,413.9 437.82,421.5 437.97,421.9 438.12,428.0 438.27,434.6 438.42,440.9 438.58,443.6 438.73,443.8 438.88,435.5 439.03,438.4 439.18,437.2 439.34,429.3 439.49,425.1 439.64,412.9 439.79,407.1 439.94,408.6 440.10,401.1 440.25,401.0 440.40,402.7 440.55,409.9 440.70,407.6 440.86,409.3 441.01,418.1 441.16,427.7 441.31,429.3 441.46,444.6 441.62,450.0 441.77,448.5 441.92,447.9 442.07,440.5 442.22,434.7 442.38,440.5 442.53,433.5 442.68,427.7 442.83,422.5 442.98,417.7 443.14,412.4 443.29,403.5 443.44,413.0 443.59,406.7 443.74,412.3 443.90,423.8 444.05,420.2 444.20,424.3 444.35,431.4 444.50,432.2 444.66,443.5 444.81,451.2 444.96,450.4 445.11,454.1 445.26,454.8 445.42,438.4 445.57,437.6 445.72,429.7 445.87,426.3 446.02,423.2 446.18,419.7 446.33,409.5 446.48,409.0 446.63,412.8 446.78,409.7 446.94,420.1 447.09,419.9 447.24,430.1 447.39,431.8 447.54,434.9 447.70,437.0 447.85,442.3 448.00,446.8 448.15,447.2 448.30,440.1 448.46,431.6 448.61,429.6 448.76,417.4 448.91,413.2 449.06,412.0 449.22,416.8 449.37,416.2 449.52,410.5 449.67,411.6 449.82,406.7 449.98,415.3 450.13,421.7 450.28,420.6 450.43,426.4 450.58,432.6 450.74,439.6 450.89,434.8 451.04,439.5 451.19,438.1 451.34,443.9 451.50,440.1 451.65,434.3 451.80,430.8 451.95,419.9 452.10,424.0 452.26,413.2 452.41,418.3 452.56,413.1 452.71,414.6 452.86,418.0 453.02,424.2 453.17,428.0 453.32,428.7 453.47,438.8 453.62,450.3 453.78,443.5 453.93,447.1 454.08,452.5 454.23,447.4 454.38,449.7 454.54,445.2 454.69,439.7 454.84,438.2 454.99,434.6 455.14,420.2 455.30,424.9 455.45,416.8 455.60,419.8 455.75,423.6 455.90,429.2 456.06,431.5 456.21,431.1 456.36,438.9 456.51,440.6 456.66,449.5 456.82,448.7 456.97,456.5 457.12,451.1 457.27,445.1 457.42,449.7 457.58,439.6 457.73,438.7 457.88,439.7 458.03,429.6 458.18,424.9 458.34,419.0 458.49,419.8 458.64,422.5 458.79,426.9 458.94,433.5 459.10,432.2 459.25,434.2 459.40,439.4 459.55,453.1 459.70,457.6 459.86,461.3 460.01,469.6 460.16,467.6 460.31,458.0 460.46,455.8 460.62,452.3 460.77,438.5 460.92,439.8 461.07,433.1 461.22,426.6 461.38,431.6 461.53,422.6 461.68,427.2 461.83,421.5 461.98,437.9 462.14,437.2 462.29,448.6 462.44,452.6 462.59,454.4 462.74,454.9 462.90,457.6 463.05,467.3 463.20,470.7 463.35,466.5 463.50,462.5 463.66,460.4 463.81,450.9 463.96,447.4 464.11,442.3 464.26,445.8 464.42,443.3 464.57,443.9 464.72,443.8 464.87,437.3 465.02,442.5 465.18,442.5 465.33,447.2 465.48,454.5 465.63,460.9 465.78,466.8 465.94,468.2 466.09,465.3 466.24,468.9 466.39,471.1 466.54,466.4 466.70,464.8 466.85,461.8 467.00,461.7 467.15,457.1 467.30,447.3 467.46,448.0 467.61,446.4 467.76,442.4 467.91,444.0 468.06,450.2 468.22,446.0 468.37,449.8 468.52,451.7 468.67,457.6 468.82,459.8 468.98,465.8 469.13,467.7 469.28,468.5 469.43,469.9 469.58,470.8 469.74,467.8 469.89,470.4 470.04,463.0 470.19,464.5 470.34,456.4 470.50,457.9 470.65,450.6 470.80,446.3 470.95,449.1 471.10,447.6 471.26,449.1 471.41,455.8 471.56,452.0 471.71,452.9 471.86,454.6 472.02,461.9 472.17,464.1 472.32,474.4 472.47,475.4 472.62,477.4 472.78,477.0 472.93,481.3 473.08,479.9 473.23,477.8 473.38,469.1 473.54,471.0 473.69,462.2 473.84,465.6 473.99,458.6 474.14,447.2 474.30,444.6 474.45,438.7 474.60,440.8 474.75,446.9 474.90,444.2 475.06,453.0 475.21,452.8 475.36,455.8 475.51,459.2 475.66,456.9 475.82,466.6 475.97,466.1 476.12,468.7 476.27,466.7 476.42,472.9 476.58,466.6 476.73,463.1 476.88,461.2 477.03,458.7 477.18,453.9 477.34,446.1 477.49,444.0 477.64,437.4 477.79,436.0 477.94,434.2 478.10,439.9 478.25,436.3 478.40,447.2 478.55,450.9 478.70,456.0 478.86,454.6 479.01,459.6 479.16,462.8 479.31,460.0 479.46,460.6 479.62,462.6 479.77,466.3 479.92,464.5 480.07,463.4 480.22,461.5 480.38,462.0 480.53,455.3 480.68,450.6 480.83,451.1 480.98,451.1 481.14,442.1 481.29,446.6 481.44,441.1 481.59,443.1 481.74,436.6 481.90,439.5 482.05,446.2 482.20,452.0 482.35,452.5 482.50,457.0 482.66,453.6 482.81,461.6 482.96,458.7 483.11,463.4 483.26,460.7 483.42,469.6 483.57,465.5 483.72,470.2 483.87,463.5 484.02,464.5 484.18,459.9 484.33,457.4 484.48,457.3 484.63,451.9 484.78,447.9 484.94,450.2 485.09,451.9 485.24,451.3 485.39,443.5 485.54,449.3 485.70,449.8 485.85,450.9 486.00,447.8 486.15,455.7 486.30,457.3 486.46,457.4 486.61,460.8 486.76,458.9 486.91,460.9 487.06,464.2 487.22,461.4 487.37,461.8 487.52,467.8 487.67,466.1 487.82,467.0 487.98,465.4 488.13,464.1 488.28,455.4 488.43,454.8 488.58,450.1 488.74,452.5 488.89,450.0 489.04,453.1 489.19,450.8 489.34,446.0 489.50,446.4 489.65,444.5 489.80,443.1 489.95,442.8 490.10,445.7 490.26,447.3 490.41,453.6 490.56,456.6 490.71,454.3 490.86,456.3 491.02,457.2 491.17,464.1 491.32,460.8 491.47,461.5 491.62,462.8 491.78,466.6 491.93,462.4 492.08,467.2 492.23,466.4 492.38,463.8 492.54,461.6 492.69,461.6 492.84,461.2 492.99,456.9 493.14,458.1 493.30,457.1 493.45,458.3 493.60,455.6 493.75,454.2 493.90,457.1 494.06,454.9 494.21,455.8 494.36,458.1 494.51,457.4 494.66,459.6 494.82,460.2 494.97,463.5 495.12,464.2 495.27,466.5 495.42,470.1 495.58,468.4 495.73,471.6 495.88,471.8 496.03,470.5 496.18,474.0 496.34,472.6 496.49,473.7 496.64,476.3 496.79,477.5 496.94,477.1 497.10,476.7 497.25,473.0 497.40,474.6 497.55,470.8 497.70,472.3 497.86,472.6 498.01,468.6 498.16,468.2 498.31,470.3 498.46,467.9 498.62,469.3 498.77,470.2 498.92,469.8 499.07,467.2 499.22,466.8 499.38,471.2 499.53,469.1 499.68,470.5 499.83,474.8 499.98,475.2 500.14,474.4 500.29,479.0 500.44,478.3 500.59,479.9 500.74,479.8 500.90,483.2 501.05,483.1 501.20,482.1 501.35,485.0 501.50,485.4 501.66,483.3 501.81,483.7 501.96,481.5 502.11,480.0 502.26,479.4 502.42,477.6 502.57,473.6 502.72,472.6 502.87,474.2 503.02,473.6 503.18,472.1 503.33,471.6 503.48,470.1 503.63,470.6 503.78,467.7 503.94,467.1 504.09,470.9 504.24,471.9 504.39,473.9 504.54,473.3 504.70,473.3 504.85,474.4 505.00,475.0 505.15,476.9 505.30,476.7 505.46,478.9 505.61,478.8 505.76,478.5 505.91,479.4 506.06,482.3 506.22,482.8 506.37,480.8 506.52,480.8 506.67,480.2 506.82,479.5 506.98,475.1 507.13,474.2 507.28,473.0 507.43,474.4 507.58,472.1 507.74,472.5 507.89,473.7 508.04,471.5 508.19,472.4 508.34,468.0 508.50,469.5 508.65,470.7 508.80,472.2 508.95,469.6 509.10,471.0 509.26,474.0 509.41,473.7 509.56,476.4 509.71,476.3 509.86,476.7 510.02,479.2 510.17,481.0 510.32,480.9 510.47,481.9 510.62,485.5 510.78,485.2 510.93,482.7 511.08,485.7 511.23,484.8 511.38,481.6 511.54,477.7 511.69,474.1 511.84,474.6 511.99,472.4 512.14,473.9 512.30,468.3 512.45,468.0 512.60,470.3 512.75,466.1 512.90,462.8 513.06,461.3 513.21,460.4 513.36,461.5 513.51,465.1 513.66,468.6 513.82,473.1 513.97,472.9 514.12,476.4 514.27,477.6 514.42,481.6 514.58,482.9 514.73,476.9 514.88,479.7 515.03,480.8 515.18,486.9 515.34,490.6 515.49,490.3 515.64,485.9 515.79,488.4 515.94,486.0 516.10,481.9 516.25,486.2 516.40,483.9 516.55,478.5 516.70,482.0 516.86,482.1 517.01,480.9 517.16,476.0 517.31,474.7 517.46,470.4 517.62,474.6 517.77,471.7 517.92,466.9 518.07,470.4 518.22,473.8 518.38,473.3 518.53,472.2 518.68,476.7 518.83,480.2 518.98,476.1 519.14,476.8 519.29,481.9 519.44,480.9 519.59,482.8 519.74,484.4 519.90,482.9 520.05,485.5 520.20,486.4 520.35,486.3 520.50,487.0 520.66,484.9 520.81,482.5 520.96,484.5 521.11,481.5 521.26,481.1 521.42,477.6 521.57,478.4 521.72,479.4 521.87,476.3 522.02,478.2 522.18,472.7 522.33,472.4 522.48,473.7 522.63,471.1 522.78,471.6 522.94,475.5 523.09,476.8 523.24,477.6 523.39,476.9 523.54,481.0 523.70,479.3 523.85,481.7 524.00,481.5 524.15,482.9 524.30,486.5 524.46,486.6 524.61,492.2 524.76,489.3 524.91,489.1 525.06,490.7 525.22,487.4 525.37,488.4 525.52,489.3 525.67,487.1 525.82,485.4 525.98,486.3 526.13,484.7 526.28,486.0 526.43,481.9 526.58,481.0 526.74,483.0 526.89,484.1 527.04,483.3 527.19,481.8 527.34,482.7 527.50,486.8 527.65,487.7 527.80,488.5 527.95,490.2 528.10,486.8 528.26,490.8 528.41,491.8 528.56,494.0 528.71,492.0 528.86,495.1 529.02,492.4 529.17,495.4 529.32,491.8 529.47,492.2 529.62,490.0 529.78,489.1 529.93,487.8 530.08,486.9 530.23,485.1 530.38,484.6 530.54,482.0 530.69,482.1 530.84,481.1 530.99,480.2 531.14,481.4 531.30,484.5 531.45,485.3 531.60,488.2 531.75,487.4 531.90,488.7 532.06,491.6 532.21,492.5 532.36,492.8 532.51,493.7 532.66,496.8 532.82,495.5 532.97,497.9 533.12,496.9 533.27,495.9 533.42,492.4 533.58,491.4 533.73,492.4 533.88,493.6 534.03,490.4 534.18,489.5 534.34,491.2 534.49,489.3 534.64,489.5 534.79,491.4 534.94,492.4 535.10,492.4 535.25,496.0 535.40,494.1 535.55,497.9 535.70,496.5 535.86,499.3 536.01,497.2 536.16,498.8 536.31,501.7 536.46,500.3 536.62,499.8 536.77,499.8 536.92,496.7 537.07,497.9 537.22,495.4 537.38,491.0 537.53,491.8 537.68,488.7 537.83,490.4 537.98,486.1 538.14,486.4 538.29,482.6 538.44,484.9 538.59,484.5 538.74,484.2 538.90,487.3 539.05,492.6 539.20,495.5 539.35,496.7 539.50,496.6 539.66,494.6 539.81,499.6 539.96,500.4 540.11,502.5 540.26,499.8 540.42,500.9 540.57,500.5 540.72,495.6 540.87,491.0 541.02,492.1 541.18,491.6 541.33,487.9 541.48,485.1 541.63,485.3 541.78,486.7 541.94,485.5 542.09,486.8 542.24,486.0 542.39,489.9 542.54,494.8 542.70,497.8 542.85,497.4 543.00,500.3 543.15,498.4 543.30,500.0 543.46,501.5 543.61,500.0 543.76,502.7 543.91,500.1 544.06,498.3 544.22,495.2 544.37,495.0 544.52,491.5 544.67,492.0 544.82,491.7 544.98,491.4 545.13,489.5 545.28,492.0 545.43,491.5 545.58,490.8 545.74,493.8 545.89,494.0 546.04,495.8 546.19,498.1 546.34,500.1 546.50,499.8 546.65,501.6 546.80,499.8 546.95,500.2 547.10,500.8 547.26,498.1 547.41,499.7 547.56,497.9 547.71,494.7 547.86,494.1 548.02,489.7 548.17,488.9 548.32,493.4 548.47,491.1 548.62,491.4 548.78,493.5 548.93,495.6 549.08,496.4 549.23,496.8 549.38,497.5 549.54,499.8 549.69,500.3 549.84,498.5 549.99,497.3 550.14,496.6 550.30,498.5 550.45,497.0 550.60,493.4 550.75,490.7 550.90,491.0 551.06,485.3 551.21,487.7 551.36,485.6 551.51,484.3 551.66,488.6 551.82,491.0 551.97,495.3 552.12,495.2 552.27,493.8 552.42,496.3 552.58,497.2 552.73,499.7 552.88,500.8 553.03,501.4 553.18,499.9 553.34,494.2 553.49,495.1 553.64,492.1 553.79,490.1 553.94,490.9 554.10,491.4 554.25,490.0 554.40,489.9 554.55,487.7 554.70,490.3 554.86,493.1 555.01,494.7 555.16,498.0 555.31,499.2 555.46,498.9 555.62,497.3 555.77,499.0 555.92,501.9 556.07,502.2 556.22,500.6 556.38,496.3 556.53,495.1 556.68,491.8 556.83,493.7 556.98,489.8 557.14,491.4 557.29,490.6 557.44,490.0 557.59,491.5 557.74,492.1 557.90,489.2 558.05,493.9 558.20,494.8 558.35,497.4 558.50,498.1 558.66,500.2 558.81,499.3 558.96,499.9 559.11,497.5 559.26,499.8 559.42,499.3 559.57,493.3 559.72,490.8 559.87,488.3 560.02,487.3 560.18,487.7 560.33,489.5 560.48,486.8 560.63,486.8 560.78,487.6 560.94,491.7 561.09,490.9 561.24,495.7 561.39,499.3 561.54,498.4 561.70,502.5 561.85,499.8 562.00,500.5 562.15,497.9 562.30,496.9 562.46,496.0 562.61,495.5 562.76,493.7 562.91,491.5 563.06,487.1 563.22,489.8 563.37,486.1 563.52,490.5 563.67,491.7 563.82,492.5 563.98,496.0 564.13,496.9 564.28,498.9 564.43,499.9 564.58,502.7 564.74,502.2 564.89,503.4 565.04,502.7 565.19,503.3 565.34,501.6 565.50,501.3 565.65,499.4 565.80,495.5 565.95,495.0 566.10,491.0 566.26,489.4 566.41,488.1 566.56,487.0 566.71,488.9 566.86,493.9 567.02,495.7 567.17,493.8 567.32,496.8 567.47,496.8 567.62,501.6 567.78,499.7 567.93,502.7 568.08,505.5 568.23,501.3 568.38,494.2 568.54,495.6 568.69,489.4 568.84,482.5 568.99,480.3 569.14,482.7 569.30,478.1 569.45,476.7 569.60,472.7 569.75,473.2 569.90,476.8 570.06,481.0 570.21,488.4 570.36,491.1 570.51,492.7 570.66,494.4 570.82,497.3 570.97,501.0 571.12,496.3 571.27,499.4 571.42,495.7 571.58,492.1 571.73,488.9 571.88,485.4 572.03,485.1 572.18,485.0 572.34,481.6 572.49,483.5 572.64,484.9 572.79,483.6 572.94,483.7 573.10,488.5 573.25,491.7 573.40,494.0 573.55,494.0 573.70,498.4 573.86,498.8 574.01,500.2 574.16,496.8 574.31,496.2 574.46,498.5 574.62,497.7 574.77,495.5 574.92,494.3 575.07,489.3 575.22,487.3 575.38,485.4 575.53,486.8 575.68,485.6 575.83,487.3 575.98,490.7 576.14,490.9 576.29,490.5 576.44,491.2 576.59,496.5 576.74,500.5 576.90,500.2 577.05,502.7 577.20,502.2 577.35,503.7 577.50,501.2 577.66,497.4 577.81,496.8 577.96,495.3 578.11,497.5 578.26,496.5 578.42,494.3 578.57,489.3 578.72,486.6 578.87,488.4 579.02,491.8 579.18,488.9 579.33,492.2 579.48,492.6 579.63,497.4 579.78,497.5 579.94,497.8 580.09,500.4 580.24,505.6 580.39,507.1 580.54,507.2 580.70,507.0 580.85,506.4 581.00,503.4 581.15,501.2 581.30,501.5 581.46,501.0 581.61,499.3 581.76,499.2 581.91,495.5 582.06,494.2 582.22,493.1 582.37,495.6 582.52,495.1 582.67,497.3 582.82,497.6 582.98,498.7 583.13,501.1 583.28,500.3 583.43,503.9 583.58,501.4 583.74,503.4 583.89,507.5 584.04,507.4 584.19,504.8 584.34,504.0 584.50,504.0 584.65,502.9 584.80,503.6 584.95,502.3 585.10,500.6 585.26,499.3 585.41,499.2 585.56,498.9 585.71,498.6 585.86,496.4 586.02,495.6 586.17,496.2 586.32,500.3 586.47,502.2 586.62,502.3 586.78,501.2 586.93,502.9 587.08,502.6 587.23,504.2 587.38,504.9 587.54,506.7 587.69,506.9 587.84,507.3 587.99,508.6 588.14,504.3 588.30,505.3 588.45,505.0 588.60,503.6 588.75,501.8 588.90,500.3 589.06,501.2 589.21,500.7 589.36,500.4 589.51,499.9 589.66,497.6 589.82,499.7 589.97,501.8 590.12,501.2 590.27,503.0 590.42,506.0 590.58,504.8 590.73,504.7 590.88,505.2 591.03,508.3 591.18,507.2 591.34,508.8 591.49,509.0 591.64,509.3 591.79,510.0 591.94,507.5 592.10,507.1 592.25,507.5 592.40,505.5 592.55,505.8 592.70,502.9 592.86,505.1 593.01,504.7 593.16,503.6 593.31,501.7 593.46,501.9 593.62,502.3 593.77,503.4 593.92,504.5 594.07,502.9 594.22,506.6 594.38,508.2 594.53,507.1 594.68,510.2 594.83,508.3 594.98,510.9 595.14,511.2 595.29,509.6 595.44,511.8 595.59,511.1 595.74,511.7 595.90,509.7 596.05,510.1 596.20,510.3 596.35,507.3 596.50,507.4 596.66,506.9 596.81,504.7 596.96,504.3 597.11,504.6 597.26,503.7 597.42,504.2 597.57,503.6 597.72,505.1 597.87,504.8 598.02,503.8 598.18,505.7 598.33,505.1 598.48,505.4 598.63,507.3 598.78,508.1 598.94,508.5 599.09,508.1 599.24,508.1 599.39,508.0 599.54,508.3 599.70,509.2 599.85,508.6 600.00,510.1 600.15,509.2 600.30,508.2 600.46,507.5 600.61,508.6 600.76,507.1 600.91,506.2 601.06,506.4 601.22,504.5 601.37,504.7 601.52,505.1 601.67,503.4 601.82,503.2 601.98,503.5 602.13,504.4 602.28,503.1 602.43,502.2 602.58,503.7 602.74,503.6 602.89,503.4 603.04,506.2 603.19,506.8 603.34,507.1 603.50,506.6 603.65,507.8 603.80,506.1 603.95,506.5 604.10,507.0 604.26,508.2 604.41,507.7 604.56,506.3 604.71,507.2 604.86,506.7 605.02,506.0 605.17,505.3 605.32,505.9 605.47,504.1 605.62,502.6 605.78,502.7 605.93,503.6 606.08,501.2 606.23,500.9 606.38,502.4 606.54,500.6 606.69,500.9 606.84,500.9 606.99,499.4 607.14,501.2 607.30,502.1 607.45,501.0 607.60,502.3 607.75,502.2 607.90,503.5 608.06,504.8 608.21,503.9 608.36,504.1 608.51,504.0 608.66,505.0 608.82,504.8 608.97,505.7 609.12,505.3 609.27,504.9 609.42,506.3 609.58,505.9 609.73,504.6 609.88,505.5 610.03,503.6 610.18,503.6 610.34,501.2 610.49,501.9 610.64,501.5 610.79,501.4 610.94,501.4 611.10,499.8 611.25,498.3 611.40,498.0 611.55,498.9 611.70,498.4 611.86,500.0 612.01,500.2 612.16,498.4 612.31,499.9 612.46,500.1 612.62,503.2 612.77,504.0 612.92,504.9 613.07,503.6 613.22,505.1 613.38,504.0 613.53,504.8 613.68,505.1 613.83,506.3 613.98,507.3 614.14,507.6 614.29,505.6 614.44,506.9 614.59,507.8 614.74,505.1 614.90,505.6 615.05,503.5 615.20,505.0 615.35,502.8 615.50,502.2 615.66,504.3 615.81,504.1 615.96,501.5 616.11,502.1 616.26,501.4 616.42,501.2 616.57,501.5 616.72,502.0 616.87,502.5 617.02,503.5 617.18,504.7 617.33,504.5 617.48,504.6 617.63,506.8 617.78,505.2 617.94,507.8 618.09,507.6 618.24,507.3 618.39,507.2 618.54,508.4 618.70,508.7 618.85,510.0 619.00,509.7 619.15,508.8 619.30,508.6 619.46,508.5 619.61,507.9 619.76,509.4 619.91,507.2 620.06,507.3 620.22,506.5 620.37,507.9 620.52,507.8 620.67,505.5 620.82,507.2 620.98,506.7 621.13,506.0 621.28,503.8 621.43,503.4 621.58,505.0 621.74,505.0 621.89,505.6 622.04,506.5 622.19,506.7 622.34,507.3 622.50,507.0 622.65,507.2 622.80,508.5 622.95,507.5 623.10,509.3 623.26,507.3 623.41,509.7 623.56,508.2 623.71,509.9 623.86,511.3 624.02,509.0 624.17,509.3 624.32,508.5 624.47,509.5 624.62,507.1 624.78,508.0 624.93,505.9 625.08,508.1 625.23,506.3 625.38,507.7 625.54,507.3 625.69,506.1 625.84,505.5 625.99,504.4 626.14,504.2 626.30,503.0 626.45,504.2 626.60,504.2 626.75,506.1 626.90,507.6 627.06,507.2 627.21,507.0 627.36,507.7 627.51,507.4 627.66,507.6 627.82,509.5 627.97,510.7 628.12,511.6 628.27,512.0 628.42,511.8 628.58,512.5 628.73,511.0 628.88,511.8 629.03,509.2 629.18,508.6 629.34,509.8 629.49,509.5 629.64,508.7 629.79,508.6 629.94,508.0 630.10,508.1 630.25,505.9 630.40,506.3 630.55,506.5 630.70,506.1 630.86,506.3 631.01,506.2 631.16,508.5 631.31,508.4 631.46,508.9 631.62,508.4 631.77,511.1 631.92,510.2 632.07,509.5 632.22,512.0 632.38,511.0 632.53,512.9 632.68,512.2 632.83,513.4 632.98,513.3 633.14,512.1 633.29,511.7 633.44,509.5 633.59,510.5 633.74,510.3 633.90,508.9 634.05,509.7 634.20,507.0 634.35,507.3 634.50,508.1 634.66,505.4 634.81,505.6 634.96,505.6 635.11,507.2 635.26,507.5 635.42,508.8 635.57,508.0 635.72,508.1 635.87,509.9 636.02,509.6 636.18,509.3 636.33,510.0 636.48,511.7 636.63,512.1 636.78,512.7 636.94,513.4 637.09,511.8 637.24,513.0 637.39,510.3 637.54,509.6 637.70,509.2 637.85,508.5 638.00,507.9 638.15,508.9 638.30,508.4 638.46,508.0 638.61,506.5 638.76,504.8 638.91,506.2 639.06,505.7 639.22,505.6 639.37,505.3 639.52,507.7 639.67,506.6 639.82,508.8 639.98,508.8 640.13,510.9 640.28,509.8 640.43,510.1 640.58,510.9 640.74,512.8 640.89,513.5 641.04,510.9 641.19,510.6 641.34,510.8 641.50,509.7 641.65,507.4 641.80,508.0 641.95,505.2 642.10,505.3 642.26,504.4 642.41,504.6 642.56,503.8 642.71,503.1 642.86,505.7 643.02,505.4 643.17,505.1 643.32,508.6 643.47,508.5 643.62,508.0 643.78,511.3 643.93,509.1 644.08,511.3 644.23,510.1 644.38,510.5 644.54,511.4 644.69,512.4 644.84,512.9 644.99,510.7 645.14,510.7 645.30,507.4 645.45,507.3 645.60,504.5 645.75,506.9 645.90,503.7 646.06,506.2 646.21,503.2 646.36,503.5 646.51,502.9 646.66,503.4 646.82,506.5 646.97,507.9 647.12,508.7 647.27,513.9 647.42,515.0 647.58,513.7 647.73,514.0 647.88,512.7 648.03,515.8 648.18,513.9 648.34,512.3 648.49,514.4 648.64,512.6 648.79,506.9 648.94,507.2 649.10,504.3 649.25,506.0 649.40,505.9 649.55,503.9 649.70,505.9 649.86,504.1 650.01,504.6 650.16,506.9 650.31,506.6 650.46,510.5 650.62,509.9 650.77,510.5 650.92,510.3 651.07,511.9 651.22,511.3 651.38,510.8 651.53,511.8 651.68,508.4 651.83,509.6 651.98,508.4 652.14,504.3 652.29,503.6 652.44,502.1 652.59,504.0 652.74,503.4 652.90,504.9 653.05,504.6 653.20,506.8 653.35,506.3 653.50,507.1 653.66,508.4 653.81,510.1 653.96,510.1 654.11,512.6 654.26,513.6 654.42,513.1 654.57,510.8 654.72,508.7 654.87,510.1 655.02,508.4 655.18,508.7 655.33,505.9 655.48,506.4 655.63,504.0 655.78,502.4 655.94,505.0 656.09,504.2 656.24,505.8 656.39,508.3 656.54,508.4 656.70,506.8 656.85,508.4 657.00,509.5 657.15,512.4 657.30,511.4 657.46,511.2 657.61,511.2 657.76,511.1 657.91,510.7 658.06,508.5 658.22,509.0 658.37,507.5 658.52,506.2 658.67,506.1 658.82,504.1 658.98,505.8 659.13,505.5 659.28,504.0 659.43,507.3 659.58,506.8 659.74,508.8 659.89,510.4 660.04,511.8 660.19,512.6 660.34,511.2 660.50,514.1 660.65,514.1 660.80,513.0 660.95,513.5 661.10,508.9 661.26,510.4 661.41,509.0 661.56,505.1 661.71,505.4 661.86,505.4 662.02,507.0 662.17,506.5 662.32,506.5 662.47,505.9 662.62,507.0 662.78,509.7 662.93,511.5 663.08,510.6 663.23,511.0 663.38,512.0 663.54,511.2 663.69,513.6 663.84,513.5 663.99,513.2 664.14,510.0 664.30,510.7 664.45,508.3 664.60,506.6 664.75,507.7 664.90,507.9 665.06,507.2 665.21,506.4 665.36,507.6 665.51,508.1 665.66,509.1 665.82,509.3 665.97,510.9 666.12,513.8 666.27,514.5 666.42,512.0 666.58,513.3 666.73,511.3 666.88,511.6 667.03,513.1 667.18,510.2 667.34,509.3 667.49,509.2 667.64,507.9 667.79,507.9 667.94,507.7 668.10,507.7 668.25,507.9 668.40,509.4 668.55,510.6 668.70,510.6 668.86,510.3 669.01,511.9 669.16,512.7 669.31,514.1 669.46,513.6 669.62,513.3 669.77,513.7 669.92,511.5 670.07,509.6 670.22,510.3 670.38,509.3 670.53,507.1 670.68,505.8 670.83,506.1 670.98,503.9 671.14,503.4 671.29,505.8 671.44,507.8 671.59,509.3 671.74,508.0 671.90,509.9 672.05,510.9 672.20,510.9 672.35,512.7 672.50,513.0 672.66,513.2 672.81,512.8 672.96,509.1 673.11,509.7 673.26,504.8 673.42,506.2 673.57,503.7 673.72,504.3 673.87,503.9 674.02,505.7 674.18,505.8 674.33,506.3 674.48,505.7 674.63,509.9 674.78,510.3 674.94,513.2 675.09,510.8 675.24,512.2 675.39,514.5 675.54,514.4 675.70,513.3 675.85,514.0 676.00,513.3 676.15,510.2 676.30,509.2 676.46,510.5 676.61,508.7 676.76,508.5 676.91,508.5 677.06,509.8 677.22,510.9 677.37,511.8 677.52,512.4 677.67,511.4 677.82,512.6 677.98,513.4 678.13,513.1 678.28,513.2 678.43,513.9 678.58,513.7 678.74,513.2 678.89,513.9 679.04,513.8 679.19,513.1 679.34,511.7 679.50,511.0 679.65,509.5 679.80,509.4 679.95,510.8 680.10,510.7 680.26,511.1 680.41,511.1 680.56,511.1 680.71,510.7 680.86,512.3 681.02,513.0 681.17,512.1 681.32,512.0 681.47,513.2 681.62,513.8 681.78,512.9 681.93,512.8 682.08,510.9 682.23,512.3 682.38,510.6 682.54,511.4 682.69,509.4 682.84,508.6 682.99,508.8 683.14,507.6 683.30,508.0 683.45,508.5 683.60,508.6 683.75,510.1 683.90,509.5 684.06,509.0 684.21,509.8 684.36,511.2 684.51,510.0 684.66,511.9 684.82,511.6 684.97,512.6 685.12,512.1 685.27,509.7 685.42,511.2 685.58,510.7 685.73,509.8 685.88,508.0 686.03,509.0 686.18,508.1 686.34,507.4 686.49,505.4 686.64,503.7 686.79,503.2 686.94,504.1 687.10,505.2 687.25,507.3 687.40,508.8 687.55,507.1 687.70,507.3 687.86,507.7" fill="none" stroke="#2b7ad6" stroke-width="0.75" stroke-linejoin="round" stroke-opacity="0.9"/>
<path d="M132.60 508.0h0 M132.75 508.4h0 M132.90 509.3h0 M133.06 509.7h0 M133.21 509.7h0 M133.36 509.0h0 M133.51 510.7h0 M133.66 509.1h0 M133.82 510.3h0 M133.97 508.2h0 M134.12 506.3h0 M134.27 506.1h0 M134.42 505.4h0 M134.58 507.0h0 M134.73 506.6h0 M134.88 506.3h0 M135.03 505.7h0 M135.18 506.3h0 M135.34 507.3h0 M135.49 508.5h0 M135.64 508.8h0 M135.79 510.8h0 M135.94 511.1h0 M136.10 512.0h0 M136.25 510.5h0 M136.40 509.8h0 M136.55 511.1h0 M136.70 510.2h0 M136.86 510.3h0 M137.01 509.3h0 M137.16 507.7h0 M137.31 507.5h0 M137.46 506.5h0 M137.62 507.5h0 M137.77 507.1h0 M137.92 507.7h0 M138.07 509.0h0 M138.22 507.8h0 M138.38 509.2h0 M138.53 509.3h0 M138.68 509.2h0 M138.83 511.7h0 M138.98 511.2h0 M139.14 513.3h0 M139.29 512.3h0 M139.44 513.0h0 M139.59 512.3h0 M139.74 510.5h0 M139.90 511.1h0 M140.05 508.7h0 M140.20 508.3h0 M140.35 508.3h0 M140.50 506.9h0 M140.66 506.7h0 M140.81 506.7h0 M140.96 507.3h0 M141.11 507.8h0 M141.26 507.2h0 M141.42 509.8h0 M141.57 510.3h0 M141.72 509.7h0 M141.87 510.7h0 M142.02 509.8h0 M142.18 510.6h0 M142.33 510.6h0 M142.48 510.9h0 M142.63 511.0h0 M142.78 511.6h0 M142.94 508.8h0 M143.09 508.6h0 M143.24 507.4h0 M143.39 509.2h0 M143.54 507.5h0 M143.70 506.2h0 M143.85 506.1h0 M144.00 505.5h0 M144.15 507.5h0 M144.30 505.9h0 M144.46 506.4h0 M144.61 509.6h0 M144.76 509.7h0 M144.91 509.3h0 M145.06 510.5h0 M145.22 510.7h0 M145.37 509.6h0 M145.52 511.7h0 M145.67 511.4h0 M145.82 511.0h0 M145.98 509.9h0 M146.13 507.8h0 M146.28 507.6h0 M146.43 507.9h0 M146.58 506.8h0 M146.74 507.9h0 M146.89 506.3h0 M147.04 505.8h0 M147.19 505.4h0 M147.34 507.0h0 M147.50 506.0h0 M147.65 507.4h0 M147.80 507.7h0 M147.95 509.1h0 M148.10 509.0h0 M148.26 510.1h0 M148.41 510.1h0 M148.56 508.9h0 M148.71 510.3h0 M148.86 508.0h0 M149.02 507.8h0 M149.17 509.2h0 M149.32 508.5h0 M149.47 506.5h0 M149.62 504.9h0 M149.78 502.1h0 M149.93 503.4h0 M150.08 504.2h0 M150.23 504.1h0 M150.38 502.1h0 M150.54 502.3h0 M150.69 503.3h0 M150.84 502.9h0 M150.99 505.2h0 M151.14 504.7h0 M151.30 507.7h0 M151.45 509.0h0 M151.60 508.5h0 M151.75 506.9h0 M151.90 507.2h0 M152.06 509.0h0 M152.21 507.4h0 M152.36 507.4h0 M152.51 507.0h0 M152.66 507.5h0 M152.82 506.0h0 M152.97 504.0h0 M153.12 503.4h0 M153.27 503.2h0 M153.42 501.6h0 M153.58 502.0h0 M153.73 503.2h0 M153.88 503.3h0 M154.03 505.2h0 M154.18 505.5h0 M154.34 503.9h0 M154.49 506.9h0 M154.64 505.3h0 M154.79 507.3h0 M154.94 507.7h0 M155.10 509.8h0 M155.25 510.8h0 M155.40 510.0h0 M155.55 507.7h0 M155.70 509.6h0 M155.86 509.0h0 M156.01 507.2h0 M156.16 507.9h0 M156.31 506.2h0 M156.46 505.2h0 M156.62 504.4h0 M156.77 502.5h0 M156.92 503.2h0 M157.07 502.8h0 M157.22 503.7h0 M157.38 505.6h0 M157.53 506.4h0 M157.68 504.9h0 M157.83 506.9h0 M157.98 505.5h0 M158.14 508.2h0 M158.29 506.9h0 M158.44 509.5h0 M158.59 509.7h0 M158.74 508.6h0 M158.90 510.1h0 M159.05 511.6h0 M159.20 510.9h0 M159.35 510.5h0 M159.50 509.9h0 M159.66 507.8h0 M159.81 509.0h0 M159.96 506.3h0 M160.11 506.2h0 M160.26 505.5h0 M160.42 505.0h0 M160.57 504.6h0 M160.72 503.7h0 M160.87 503.0h0 M161.02 502.4h0 M161.18 502.7h0 M161.33 505.0h0 M161.48 505.4h0 M161.63 505.2h0 M161.78 506.7h0 M161.94 508.4h0 M162.09 507.8h0 M162.24 509.8h0 M162.39 510.0h0 M162.54 510.2h0 M162.70 510.0h0 M162.85 509.6h0 M163.00 511.5h0 M163.15 509.4h0 M163.30 510.8h0 M163.46 509.3h0 M163.61 507.2h0 M163.76 507.2h0 M163.91 506.6h0 M164.06 507.7h0 M164.22 505.9h0 M164.37 506.5h0 M164.52 503.9h0 M164.67 503.3h0 M164.82 503.1h0 M164.98 502.8h0 M165.13 502.1h0 M165.28 502.9h0 M165.43 502.3h0 M165.58 503.9h0 M165.74 505.7h0 M165.89 507.0h0 M166.04 508.4h0 M166.19 507.1h0 M166.34 507.1h0 M166.50 509.4h0 M166.65 510.7h0 M166.80 510.9h0 M166.95 512.0h0 M167.10 511.2h0 M167.26 512.0h0 M167.41 511.2h0 M167.56 510.4h0 M167.71 508.6h0 M167.86 505.6h0 M168.02 506.0h0 M168.17 507.0h0 M168.32 505.8h0 M168.47 505.4h0 M168.62 502.4h0 M168.78 504.0h0 M168.93 502.6h0 M169.08 500.4h0 M169.23 500.7h0 M169.38 500.9h0 M169.54 501.3h0 M169.69 504.9h0 M169.84 503.8h0 M169.99 505.8h0 M170.14 506.3h0 M170.30 504.9h0 M170.45 505.9h0 M170.60 506.7h0 M170.75 506.2h0 M170.90 507.8h0 M171.06 510.1h0 M171.21 509.1h0 M171.36 509.9h0 M171.51 508.1h0 M171.66 507.3h0 M171.82 508.6h0 M171.97 505.5h0 M172.12 506.0h0 M172.27 502.2h0 M172.42 504.0h0 M172.58 501.9h0 M172.73 500.9h0 M172.88 498.3h0 M173.03 498.6h0 M173.18 498.2h0 M173.34 498.1h0 M173.49 493.8h0 M173.64 495.7h0 M173.79 495.3h0 M173.94 496.3h0 M174.10 499.7h0 M174.25 500.4h0 M174.40 499.2h0 M174.55 502.9h0 M174.70 501.9h0 M174.86 502.9h0 M175.01 504.5h0 M175.16 504.5h0 M175.31 503.6h0 M175.46 507.8h0 M175.62 509.0h0 M175.77 506.6h0 M175.92 506.3h0 M176.07 509.1h0 M176.22 507.4h0 M176.38 506.4h0 M176.53 503.2h0 M176.68 499.7h0 M176.83 500.4h0 M176.98 500.4h0 M177.14 497.3h0 M177.29 496.8h0 M177.44 496.9h0 M177.59 497.7h0 M177.74 494.5h0 M177.90 493.8h0 M178.05 493.7h0 M178.20 492.7h0 M178.35 496.4h0 M178.50 494.3h0 M178.66 499.1h0 M178.81 496.5h0 M178.96 497.2h0 M179.11 498.0h0 M179.26 499.3h0 M179.42 502.5h0 M179.57 501.0h0 M179.72 502.1h0 M179.87 502.0h0 M180.02 502.5h0 M180.18 502.9h0 M180.33 505.8h0 M180.48 504.3h0 M180.63 504.2h0 M180.78 504.4h0 M180.94 504.9h0 M181.09 499.8h0 M181.24 501.8h0 M181.39 499.5h0 M181.54 496.5h0 M181.70 500.1h0 M181.85 499.0h0 M182.00 495.3h0 M182.15 494.0h0 M182.30 495.2h0 M182.46 494.0h0 M182.61 493.1h0 M182.76 491.4h0 M182.91 492.3h0 M183.06 493.2h0 M183.22 491.0h0 M183.37 491.6h0 M183.52 494.9h0 M183.67 492.6h0 M183.82 495.8h0 M183.98 494.5h0 M184.13 493.8h0 M184.28 496.3h0 M184.43 497.9h0 M184.58 498.1h0 M184.74 497.9h0 M184.89 501.5h0 M185.04 498.9h0 M185.19 502.7h0 M185.34 500.5h0 M185.50 503.3h0 M185.65 497.7h0 M185.80 498.4h0 M185.95 495.9h0 M186.10 497.4h0 M186.26 493.6h0 M186.41 493.3h0 M186.56 492.1h0 M186.71 494.2h0 M186.86 494.2h0 M187.02 488.7h0 M187.17 488.4h0 M187.32 489.6h0 M187.47 485.4h0 M187.62 487.7h0 M187.78 482.3h0 M187.93 484.3h0 M188.08 487.8h0 M188.23 489.6h0 M188.38 487.1h0 M188.54 491.4h0 M188.69 487.2h0 M188.84 489.7h0 M188.99 490.0h0 M189.14 488.8h0 M189.30 491.6h0 M189.45 491.9h0 M189.60 494.1h0 M189.75 498.8h0 M189.90 498.0h0 M190.06 498.7h0 M190.21 501.1h0 M190.36 497.7h0 M190.51 494.8h0 M190.66 497.8h0 M190.82 492.5h0 M190.97 491.9h0 M191.12 492.1h0 M191.27 494.7h0 M191.42 490.9h0 M191.58 491.6h0 M191.73 491.0h0 M191.88 487.3h0 M192.03 488.4h0 M192.18 486.1h0 M192.34 481.7h0 M192.49 483.5h0 M192.64 486.0h0 M192.79 483.1h0 M192.94 485.2h0 M193.10 484.8h0 M193.25 488.5h0 M193.40 489.4h0 M193.55 487.8h0 M193.70 488.5h0 M193.86 488.0h0 M194.01 492.3h0 M194.16 490.2h0 M194.31 493.8h0 M194.46 497.3h0 M194.62 498.8h0 M194.77 495.1h0 M194.92 497.3h0 M195.07 496.7h0 M195.22 495.9h0 M195.38 496.2h0 M195.53 496.0h0 M195.68 491.8h0 M195.83 492.0h0 M195.98 491.9h0 M196.14 490.4h0 M196.29 489.9h0 M196.44 491.8h0 M196.59 487.8h0 M196.74 489.4h0 M196.90 484.6h0 M197.05 485.6h0 M197.20 482.8h0 M197.35 486.4h0 M197.50 487.6h0 M197.66 485.7h0 M197.81 486.1h0 M197.96 488.9h0 M198.11 488.8h0 M198.26 490.0h0 M198.42 492.3h0 M198.57 490.7h0 M198.72 494.5h0 M198.87 495.0h0 M199.02 495.8h0 M199.18 498.9h0 M199.33 498.3h0 M199.48 499.3h0 M199.63 498.6h0 M199.78 498.3h0 M199.94 499.0h0 M200.09 496.5h0 M200.24 497.9h0 M200.39 495.4h0 M200.54 497.6h0 M200.70 495.3h0 M200.85 497.3h0 M201.00 494.6h0 M201.15 492.6h0 M201.30 493.3h0 M201.46 488.7h0 M201.61 487.8h0 M201.76 490.6h0 M201.91 490.4h0 M202.06 491.3h0 M202.22 489.1h0 M202.37 491.6h0 M202.52 493.9h0 M202.67 493.3h0 M202.82 493.5h0 M202.98 493.3h0 M203.13 496.9h0 M203.28 496.1h0 M203.43 499.7h0 M203.58 497.6h0 M203.74 502.7h0 M203.89 499.7h0 M204.04 501.4h0 M204.19 502.0h0 M204.34 499.1h0 M204.50 498.4h0 M204.65 500.2h0 M204.80 496.5h0 M204.95 496.8h0 M205.10 495.8h0 M205.26 494.1h0 M205.41 495.2h0 M205.56 492.1h0 M205.71 487.8h0 M205.86 486.5h0 M206.02 487.4h0 M206.17 486.1h0 M206.32 487.7h0 M206.47 488.8h0 M206.62 488.6h0 M206.78 489.9h0 M206.93 488.8h0 M207.08 491.9h0 M207.23 489.9h0 M207.38 490.7h0 M207.54 493.4h0 M207.69 495.0h0 M207.84 494.8h0 M207.99 496.4h0 M208.14 500.2h0 M208.30 496.8h0 M208.45 497.5h0 M208.60 495.1h0 M208.75 497.8h0 M208.90 495.9h0 M209.06 495.9h0 M209.21 494.9h0 M209.36 489.7h0 M209.51 491.5h0 M209.66 487.1h0 M209.82 484.1h0 M209.97 483.0h0 M210.12 481.6h0 M210.27 485.5h0 M210.42 483.1h0 M210.58 484.5h0 M210.73 484.7h0 M210.88 489.1h0 M211.03 489.7h0 M211.18 489.8h0 M211.34 489.3h0 M211.49 489.8h0 M211.64 492.7h0 M211.79 496.0h0 M211.94 497.8h0 M212.10 495.5h0 M212.25 494.5h0 M212.40 494.8h0 M212.55 494.3h0 M212.70 489.9h0 M212.86 488.1h0 M213.01 488.2h0 M213.16 490.9h0 M213.31 488.1h0 M213.46 483.3h0 M213.62 482.5h0 M213.77 482.2h0 M213.92 483.5h0 M214.07 479.9h0 M214.22 479.7h0 M214.38 482.5h0 M214.53 484.0h0 M214.68 486.5h0 M214.83 485.8h0 M214.98 488.1h0 M215.14 491.3h0 M215.29 488.3h0 M215.44 492.1h0 M215.59 494.8h0 M215.74 493.7h0 M215.90 496.5h0 M216.05 495.1h0 M216.20 494.6h0 M216.35 494.3h0 M216.50 493.5h0 M216.66 490.3h0 M216.81 487.7h0 M216.96 489.8h0 M217.11 487.9h0 M217.26 484.5h0 M217.42 485.5h0 M217.57 484.1h0 M217.72 480.4h0 M217.87 480.8h0 M218.02 484.5h0 M218.18 485.4h0 M218.33 487.8h0 M218.48 487.8h0 M218.63 489.2h0 M218.78 488.2h0 M218.94 488.6h0 M219.09 493.4h0 M219.24 495.3h0 M219.39 493.8h0 M219.54 495.8h0 M219.70 496.4h0 M219.85 496.1h0 M220.00 491.6h0 M220.15 488.1h0 M220.30 487.5h0 M220.46 489.9h0 M220.61 485.7h0 M220.76 484.9h0 M220.91 487.1h0 M221.06 484.7h0 M221.22 485.2h0 M221.37 484.2h0 M221.52 485.3h0 M221.67 486.6h0 M221.82 486.9h0 M221.98 490.9h0 M222.13 494.0h0 M222.28 490.2h0 M222.43 495.8h0 M222.58 492.0h0 M222.74 492.2h0 M222.89 496.4h0 M223.04 497.7h0 M223.19 496.8h0 M223.34 496.8h0 M223.50 494.7h0 M223.65 492.1h0 M223.80 489.8h0 M223.95 484.2h0 M224.10 482.4h0 M224.26 486.2h0 M224.41 485.8h0 M224.56 482.3h0 M224.71 480.7h0 M224.86 481.3h0 M225.02 483.6h0 M225.17 484.5h0 M225.32 489.7h0 M225.47 490.3h0 M225.62 493.7h0 M225.78 495.5h0 M225.93 494.6h0 M226.08 496.5h0 M226.23 496.3h0 M226.38 493.9h0 M226.54 493.0h0 M226.69 492.1h0 M226.84 490.3h0 M226.99 491.3h0 M227.14 486.1h0 M227.30 485.5h0 M227.45 482.8h0 M227.60 484.4h0 M227.75 485.3h0 M227.90 481.7h0 M228.06 483.5h0 M228.21 484.6h0 M228.36 486.3h0 M228.51 488.3h0 M228.66 489.0h0 M228.82 492.2h0 M228.97 493.1h0 M229.12 494.0h0 M229.27 495.1h0 M229.42 495.5h0 M229.58 496.6h0 M229.73 493.7h0 M229.88 494.3h0 M230.03 492.2h0 M230.18 488.2h0 M230.34 488.2h0 M230.49 484.6h0 M230.64 481.2h0 M230.79 481.3h0 M230.94 481.3h0 M231.10 481.5h0 M231.25 483.1h0 M231.40 487.2h0 M231.55 484.7h0 M231.70 487.2h0 M231.86 488.7h0 M232.01 491.6h0 M232.16 497.2h0 M232.31 499.8h0 M232.46 497.0h0 M232.62 497.8h0 M232.77 494.0h0 M232.92 493.4h0 M233.07 489.8h0 M233.22 487.5h0 M233.38 489.8h0 M233.53 485.9h0 M233.68 483.1h0 M233.83 482.1h0 M233.98 482.1h0 M234.14 481.4h0 M234.29 485.2h0 M234.44 484.9h0 M234.59 490.7h0 M234.74 491.6h0 M234.90 493.3h0 M235.05 494.1h0 M235.20 497.1h0 M235.35 497.7h0 M235.50 500.3h0 M235.66 497.2h0 M235.81 496.3h0 M235.96 493.1h0 M236.11 493.1h0 M236.26 489.8h0 M236.42 486.9h0 M236.57 488.7h0 M236.72 485.2h0 M236.87 485.0h0 M237.02 482.6h0 M237.18 483.1h0 M237.33 485.6h0 M237.48 488.1h0 M237.63 491.0h0 M237.78 495.8h0 M237.94 496.1h0 M238.09 497.7h0 M238.24 499.6h0 M238.39 495.3h0 M238.54 497.8h0 M238.70 497.9h0 M238.85 498.2h0 M239.00 492.9h0 M239.15 491.8h0 M239.30 485.7h0 M239.46 484.0h0 M239.61 477.8h0 M239.76 480.0h0 M239.91 477.8h0 M240.06 476.1h0 M240.22 477.7h0 M240.37 475.3h0 M240.52 478.5h0 M240.67 478.3h0 M240.82 481.6h0 M240.98 487.6h0 M241.13 489.4h0 M241.28 489.6h0 M241.43 488.5h0 M241.58 492.0h0 M241.74 487.5h0 M241.89 488.4h0 M242.04 487.1h0 M242.19 480.0h0 M242.34 477.3h0 M242.50 471.4h0 M242.65 466.1h0 M242.80 464.4h0 M242.95 457.1h0 M243.10 465.8h0 M243.26 460.4h0 M243.41 459.8h0 M243.56 466.3h0 M243.71 463.0h0 M243.86 473.4h0 M244.02 479.1h0 M244.17 482.9h0 M244.32 486.4h0 M244.47 485.3h0 M244.62 481.4h0 M244.78 478.5h0 M244.93 476.9h0 M245.08 468.4h0 M245.23 464.1h0 M245.38 458.7h0 M245.54 453.6h0 M245.69 451.7h0 M245.84 451.6h0 M245.99 450.6h0 M246.14 449.8h0 M246.30 455.8h0 M246.45 455.4h0 M246.60 455.3h0 M246.75 462.4h0 M246.90 464.3h0 M247.06 470.5h0 M247.21 474.5h0 M247.36 473.8h0 M247.51 471.8h0 M247.66 475.4h0 M247.82 474.3h0 M247.97 467.9h0 M248.12 467.1h0 M248.27 462.7h0 M248.42 462.0h0 M248.58 458.2h0 M248.73 456.6h0 M248.88 453.3h0 M249.03 456.5h0 M249.18 455.3h0 M249.34 453.9h0 M249.49 458.6h0 M249.64 463.3h0 M249.79 465.3h0 M249.94 466.1h0 M250.10 465.6h0 M250.25 466.2h0 M250.40 471.1h0 M250.55 474.5h0 M250.70 474.6h0 M250.86 474.1h0 M251.01 471.5h0 M251.16 465.3h0 M251.31 463.6h0 M251.46 458.8h0 M251.62 457.3h0 M251.77 462.6h0 M251.92 457.8h0 M252.07 459.4h0 M252.22 454.6h0 M252.38 455.9h0 M252.53 457.7h0 M252.68 464.8h0 M252.83 465.8h0 M252.98 465.9h0 M253.14 472.0h0 M253.29 472.4h0 M253.44 472.5h0 M253.59 477.1h0 M253.74 474.8h0 M253.90 472.9h0 M254.05 473.4h0 M254.20 470.2h0 M254.35 472.1h0 M254.50 470.5h0 M254.66 466.4h0 M254.81 457.7h0 M254.96 457.9h0 M255.11 457.3h0 M255.26 461.7h0 M255.42 462.2h0 M255.57 456.5h0 M255.72 461.3h0 M255.87 464.3h0 M256.02 467.3h0 M256.18 464.6h0 M256.33 472.6h0 M256.48 471.7h0 M256.63 477.7h0 M256.78 478.7h0 M256.94 472.6h0 M257.09 475.7h0 M257.24 476.2h0 M257.39 476.8h0 M257.54 474.9h0 M257.70 471.2h0 M257.85 470.6h0 M258.00 466.4h0 M258.15 459.7h0 M258.30 462.6h0 M258.46 461.1h0 M258.61 460.2h0 M258.76 462.9h0 M258.91 460.3h0 M259.06 465.0h0 M259.22 464.5h0 M259.37 467.8h0 M259.52 466.7h0 M259.67 469.7h0 M259.82 475.3h0 M259.98 480.1h0 M260.13 480.7h0 M260.28 480.6h0 M260.43 475.4h0 M260.58 477.3h0 M260.74 476.8h0 M260.89 470.3h0 M261.04 473.7h0 M261.19 471.5h0 M261.34 464.9h0 M261.50 464.3h0 M261.65 458.5h0 M261.80 460.4h0 M261.95 458.4h0 M262.10 461.5h0 M262.26 459.7h0 M262.41 465.6h0 M262.56 464.8h0 M262.71 466.4h0 M262.86 465.3h0 M263.02 470.0h0 M263.17 471.5h0 M263.32 473.7h0 M263.47 473.1h0 M263.62 476.4h0 M263.78 477.9h0 M263.93 474.0h0 M264.08 473.2h0 M264.23 469.5h0 M264.38 473.4h0 M264.54 469.2h0 M264.69 466.7h0 M264.84 465.9h0 M264.99 465.4h0 M265.14 464.1h0 M265.30 457.8h0 M265.45 457.6h0 M265.60 456.9h0 M265.75 461.8h0 M265.90 463.7h0 M266.06 461.3h0 M266.21 464.4h0 M266.36 467.4h0 M266.51 465.7h0 M266.66 468.2h0 M266.82 466.2h0 M266.97 466.2h0 M267.12 471.8h0 M267.27 467.6h0 M267.42 469.1h0 M267.58 470.8h0 M267.73 463.8h0 M267.88 464.4h0 M268.03 463.0h0 M268.18 456.1h0 M268.34 458.2h0 M268.49 452.4h0 M268.64 452.7h0 M268.79 447.7h0 M268.94 443.7h0 M269.10 441.2h0 M269.25 438.9h0 M269.40 437.0h0 M269.55 438.4h0 M269.70 443.9h0 M269.86 445.8h0 M270.01 448.2h0 M270.16 447.1h0 M270.31 451.4h0 M270.46 450.9h0 M270.62 450.3h0 M270.77 452.9h0 M270.92 452.7h0 M271.07 453.7h0 M271.22 458.2h0 M271.38 460.3h0 M271.53 456.4h0 M271.68 453.6h0 M271.83 450.8h0 M271.98 449.1h0 M272.14 449.1h0 M272.29 447.6h0 M272.44 445.4h0 M272.59 439.1h0 M272.74 437.8h0 M272.90 435.4h0 M273.05 438.5h0 M273.20 435.6h0 M273.35 429.9h0 M273.50 427.8h0 M273.66 429.5h0 M273.81 429.2h0 M273.96 433.8h0 M274.11 433.1h0 M274.26 438.8h0 M274.42 439.0h0 M274.57 438.3h0 M274.72 438.3h0 M274.87 443.9h0 M275.02 440.8h0 M275.18 441.0h0 M275.33 445.4h0 M275.48 443.3h0 M275.63 446.4h0 M275.78 442.7h0 M275.94 434.9h0 M276.09 433.1h0 M276.24 425.5h0 M276.39 423.9h0 M276.54 426.2h0 M276.70 417.4h0 M276.85 419.8h0 M277.00 416.1h0 M277.15 419.3h0 M277.30 411.6h0 M277.46 413.8h0 M277.61 412.6h0 M277.76 413.1h0 M277.91 416.3h0 M278.06 420.8h0 M278.22 422.7h0 M278.37 426.4h0 M278.52 429.8h0 M278.67 429.2h0 M278.82 431.0h0 M278.98 428.0h0 M279.13 431.2h0 M279.28 431.7h0 M279.43 439.4h0 M279.58 435.1h0 M279.74 437.5h0 M279.89 441.4h0 M280.04 440.4h0 M280.19 435.6h0 M280.34 438.1h0 M280.50 431.2h0 M280.65 431.9h0 M280.80 427.2h0 M280.95 426.2h0 M281.10 431.2h0 M281.26 428.7h0 M281.41 424.9h0 M281.56 429.8h0 M281.71 424.8h0 M281.86 424.2h0 M282.02 426.7h0 M282.17 422.3h0 M282.32 423.4h0 M282.47 430.3h0 M282.62 432.8h0 M282.78 435.7h0 M282.93 435.8h0 M283.08 441.5h0 M283.23 439.4h0 M283.38 440.5h0 M283.54 439.7h0 M283.69 444.2h0 M283.84 443.1h0 M283.99 449.8h0 M284.14 451.0h0 M284.30 454.3h0 M284.45 449.3h0 M284.60 450.5h0 M284.75 449.3h0 M284.90 452.0h0 M285.06 445.8h0 M285.21 445.5h0 M285.36 443.4h0 M285.51 445.4h0 M285.66 445.0h0 M285.82 444.2h0 M285.97 443.6h0 M286.12 441.1h0 M286.27 440.5h0 M286.42 441.5h0 M286.58 440.1h0 M286.73 441.9h0 M286.88 442.9h0 M287.03 444.4h0 M287.18 446.5h0 M287.34 447.6h0 M287.49 449.3h0 M287.64 449.8h0 M287.79 452.6h0 M287.94 454.1h0 M288.10 453.8h0 M288.25 454.3h0 M288.40 456.7h0 M288.55 460.3h0 M288.70 460.6h0 M288.86 458.6h0 M289.01 461.8h0 M289.16 462.4h0 M289.31 464.4h0 M289.46 462.2h0 M289.62 463.7h0 M289.77 461.1h0 M289.92 461.6h0 M290.07 461.4h0 M290.22 459.1h0 M290.38 459.5h0 M290.53 457.8h0 M290.68 458.3h0 M290.83 454.7h0 M290.98 453.1h0 M291.14 454.6h0 M291.29 455.3h0 M291.44 452.0h0 M291.59 453.8h0 M291.74 451.8h0 M291.90 453.0h0 M292.05 453.4h0 M292.20 455.9h0 M292.35 455.9h0 M292.50 459.6h0 M292.66 458.4h0 M292.81 458.3h0 M292.96 460.2h0 M293.11 458.7h0 M293.26 461.2h0 M293.42 465.3h0 M293.57 463.8h0 M293.72 468.6h0 M293.87 464.9h0 M294.02 467.6h0 M294.18 468.6h0 M294.33 468.8h0 M294.48 464.8h0 M294.63 462.5h0 M294.78 462.2h0 M294.94 463.0h0 M295.09 459.6h0 M295.24 457.9h0 M295.39 457.8h0 M295.54 458.1h0 M295.70 453.8h0 M295.85 452.6h0 M296.00 448.6h0 M296.15 449.7h0 M296.30 445.6h0 M296.46 448.3h0 M296.61 444.4h0 M296.76 449.1h0 M296.91 452.5h0 M297.06 450.5h0 M297.22 450.5h0 M297.37 452.8h0 M297.52 451.3h0 M297.67 454.9h0 M297.82 458.6h0 M297.98 454.0h0 M298.13 460.9h0 M298.28 462.2h0 M298.43 461.2h0 M298.58 464.8h0 M298.74 462.8h0 M298.89 464.9h0 M299.04 464.5h0 M299.19 465.2h0 M299.34 459.0h0 M299.50 455.6h0 M299.65 453.5h0 M299.80 452.8h0 M299.95 456.1h0 M300.10 454.4h0 M300.26 447.3h0 M300.41 446.9h0 M300.56 444.2h0 M300.71 441.1h0 M300.86 443.4h0 M301.02 437.4h0 M301.17 436.7h0 M301.32 440.3h0 M301.47 441.6h0 M301.62 440.6h0 M301.78 437.9h0 M301.93 445.6h0 M302.08 447.2h0 M302.23 444.2h0 M302.38 450.3h0 M302.54 451.7h0 M302.69 449.3h0 M302.84 450.8h0 M302.99 458.2h0 M303.14 460.4h0 M303.30 458.0h0 M303.45 459.6h0 M303.60 460.9h0 M303.75 458.9h0 M303.90 459.4h0 M304.06 455.4h0 M304.21 459.9h0 M304.36 454.4h0 M304.51 453.8h0 M304.66 451.0h0 M304.82 452.0h0 M304.97 453.5h0 M305.12 447.9h0 M305.27 443.2h0 M305.42 445.7h0 M305.58 436.4h0 M305.73 438.9h0 M305.88 439.7h0 M306.03 439.6h0 M306.18 434.3h0 M306.34 435.2h0 M306.49 438.7h0 M306.64 444.0h0 M306.79 442.4h0 M306.94 443.8h0 M307.10 445.2h0 M307.25 452.0h0 M307.40 457.7h0 M307.55 460.8h0 M307.70 462.2h0 M307.86 464.1h0 M308.01 474.8h0 M308.16 474.6h0 M308.31 473.8h0 M308.46 472.2h0 M308.62 465.9h0 M308.77 465.6h0 M308.92 469.2h0 M309.07 464.1h0 M309.22 466.2h0 M309.38 464.8h0 M309.53 456.0h0 M309.68 457.2h0 M309.83 448.6h0 M309.98 447.1h0 M310.14 437.8h0 M310.29 435.6h0 M310.44 432.6h0 M310.59 441.4h0 M310.74 441.3h0 M310.90 435.9h0 M311.05 439.9h0 M311.20 443.8h0 M311.35 444.3h0 M311.50 444.5h0 M311.66 451.5h0 M311.81 451.6h0 M311.96 460.9h0 M312.11 458.0h0 M312.26 472.1h0 M312.42 467.0h0 M312.57 475.2h0 M312.72 470.6h0 M312.87 475.3h0 M313.02 474.3h0 M313.18 462.0h0 M313.33 463.2h0 M313.48 466.4h0 M313.63 456.3h0 M313.78 457.3h0 M313.94 456.0h0 M314.09 452.3h0 M314.24 442.4h0 M314.39 441.3h0 M314.54 436.1h0 M314.70 430.8h0 M314.85 431.3h0 M315.00 443.1h0 M315.15 442.7h0 M315.30 446.6h0 M315.46 443.7h0 M315.61 446.3h0 M315.76 446.4h0 M315.91 448.4h0 M316.06 459.4h0 M316.22 458.8h0 M316.37 466.0h0 M316.52 468.4h0 M316.67 475.6h0 M316.82 470.6h0 M316.98 470.9h0 M317.13 466.7h0 M317.28 462.6h0 M317.43 457.4h0 M317.58 459.7h0 M317.74 451.4h0 M317.89 447.6h0 M318.04 444.9h0 M318.19 445.4h0 M318.34 433.0h0 M318.50 433.0h0 M318.65 426.9h0 M318.80 424.7h0 M318.95 436.1h0 M319.10 438.8h0 M319.26 441.0h0 M319.41 442.7h0 M319.56 441.1h0 M319.71 440.7h0 M319.86 451.9h0 M320.02 459.8h0 M320.17 456.5h0 M320.32 460.0h0 M320.47 472.0h0 M320.62 467.9h0 M320.78 471.5h0 M320.93 471.6h0 M321.08 465.5h0 M321.23 460.1h0 M321.38 449.2h0 M321.54 448.2h0 M321.69 448.8h0 M321.84 449.3h0 M321.99 433.8h0 M322.14 436.1h0 M322.30 431.4h0 M322.45 431.6h0 M322.60 425.8h0 M322.75 426.1h0 M322.90 428.4h0 M323.06 435.5h0 M323.21 451.7h0 M323.36 441.2h0 M323.51 446.1h0 M323.66 446.9h0 M323.82 464.3h0 M323.97 463.9h0 M324.12 472.0h0 M324.27 471.2h0 M324.42 470.8h0 M324.58 472.1h0 M324.73 455.3h0 M324.88 452.9h0 M325.03 445.7h0 M325.18 438.2h0 M325.34 440.6h0 M325.49 443.3h0 M325.64 439.3h0 M325.79 428.6h0 M325.94 416.3h0 M326.10 423.4h0 M326.25 425.5h0 M326.40 431.1h0 M326.55 436.5h0 M326.70 451.8h0 M326.86 446.4h0 M327.01 454.0h0 M327.16 459.4h0 M327.31 461.2h0 M327.46 464.3h0 M327.62 466.4h0 M327.77 465.7h0 M327.92 470.3h0 M328.07 470.9h0 M328.22 453.0h0 M328.38 446.4h0 M328.53 443.2h0 M328.68 438.7h0 M328.83 435.3h0 M328.98 427.8h0 M329.14 426.3h0 M329.29 434.5h0 M329.44 430.9h0 M329.59 423.6h0 M329.74 434.3h0 M329.90 441.1h0 M330.05 441.0h0 M330.20 453.7h0 M330.35 455.2h0 M330.50 457.9h0 M330.66 462.6h0 M330.81 465.7h0 M330.96 464.0h0 M331.11 466.3h0 M331.26 468.3h0 M331.42 465.8h0 M331.57 464.1h0 M331.72 458.4h0 M331.87 454.0h0 M332.02 450.7h0 M332.18 444.5h0 M332.33 447.3h0 M332.48 439.4h0 M332.63 439.1h0 M332.78 444.0h0 M332.94 444.7h0 M333.09 440.6h0 M333.24 445.1h0 M333.39 451.5h0 M333.54 451.6h0 M333.70 462.2h0 M333.85 462.5h0 M334.00 464.3h0 M334.15 458.8h0 M334.30 461.1h0 M334.46 462.3h0 M334.61 453.4h0 M334.76 451.8h0 M334.91 453.6h0 M335.06 438.7h0 M335.22 439.5h0 M335.37 429.5h0 M335.52 424.0h0 M335.67 425.8h0 M335.82 430.4h0 M335.98 430.3h0 M336.13 438.1h0 M336.28 432.9h0 M336.43 439.3h0 M336.58 446.4h0 M336.74 450.5h0 M336.89 458.0h0 M337.04 457.6h0 M337.19 468.1h0 M337.34 460.5h0 M337.50 459.6h0 M337.65 459.2h0 M337.80 457.9h0 M337.95 459.2h0 M338.10 449.3h0 M338.26 451.8h0 M338.41 447.4h0 M338.56 442.7h0 M338.71 438.4h0 M338.86 443.4h0 M339.02 444.9h0 M339.17 449.0h0 M339.32 450.8h0 M339.47 452.6h0 M339.62 455.6h0 M339.78 457.8h0 M339.93 465.3h0 M340.08 464.8h0 M340.23 466.6h0 M340.38 467.1h0 M340.54 471.0h0 M340.69 466.1h0 M340.84 462.1h0 M340.99 457.9h0 M341.14 457.2h0 M341.30 456.6h0 M341.45 452.7h0 M341.60 451.2h0 M341.75 445.8h0 M341.90 449.5h0 M342.06 448.0h0 M342.21 450.8h0 M342.36 451.3h0 M342.51 454.1h0 M342.66 455.2h0 M342.82 459.1h0 M342.97 460.6h0 M343.12 462.3h0 M343.27 469.9h0 M343.42 466.7h0 M343.58 473.3h0 M343.73 464.1h0 M343.88 465.9h0 M344.03 454.7h0 M344.18 453.6h0 M344.34 450.8h0 M344.49 445.0h0 M344.64 448.1h0 M344.79 443.2h0 M344.94 440.7h0 M345.10 440.6h0 M345.25 443.6h0 M345.40 446.1h0 M345.55 449.7h0 M345.70 453.1h0 M345.86 463.0h0 M346.01 460.2h0 M346.16 467.2h0 M346.31 461.2h0 M346.46 462.1h0 M346.62 461.8h0 M346.77 463.4h0 M346.92 460.7h0 M347.07 454.7h0 M347.22 443.9h0 M347.38 437.4h0 M347.53 440.2h0 M347.68 435.1h0 M347.83 443.2h0 M347.98 435.8h0 M348.14 443.6h0 M348.29 434.3h0 M348.44 445.4h0 M348.59 448.7h0 M348.74 455.3h0 M348.90 459.5h0 M349.05 462.1h0 M349.20 465.4h0 M349.35 459.0h0 M349.50 458.1h0 M349.66 454.1h0 M349.81 460.0h0 M349.96 447.5h0 M350.11 444.5h0 M350.26 440.4h0 M350.42 433.6h0 M350.57 432.1h0 M350.72 436.8h0 M350.87 437.3h0 M351.02 439.0h0 M351.18 443.1h0 M351.33 441.8h0 M351.48 446.2h0 M351.63 446.4h0 M351.78 446.4h0 M351.94 451.2h0 M352.09 451.8h0 M352.24 455.7h0 M352.39 456.6h0 M352.54 451.0h0 M352.70 450.2h0 M352.85 444.3h0 M353.00 446.6h0 M353.15 442.4h0 M353.30 444.3h0 M353.46 440.9h0 M353.61 437.0h0 M353.76 438.3h0 M353.91 438.5h0 M354.06 439.6h0 M354.22 438.9h0 M354.37 446.8h0 M354.52 442.9h0 M354.67 450.0h0 M354.82 450.8h0 M354.98 451.3h0 M355.13 449.9h0 M355.28 451.6h0 M355.43 457.6h0 M355.58 457.1h0 M355.74 450.3h0 M355.89 452.3h0 M356.04 445.6h0 M356.19 445.2h0 M356.34 443.6h0 M356.50 448.0h0 M356.65 446.5h0 M356.80 443.4h0 M356.95 442.2h0 M357.10 443.3h0 M357.26 444.3h0 M357.41 443.1h0 M357.56 447.6h0 M357.71 449.5h0 M357.86 454.4h0 M358.02 454.3h0 M358.17 451.9h0 M358.32 451.9h0 M358.47 455.1h0 M358.62 456.2h0 M358.78 453.5h0 M358.93 456.1h0 M359.08 453.1h0 M359.23 452.2h0 M359.38 447.2h0 M359.54 442.6h0 M359.69 445.1h0 M359.84 440.9h0 M359.99 438.8h0 M360.14 437.1h0 M360.30 442.0h0 M360.45 440.1h0 M360.60 439.1h0 M360.75 440.8h0 M360.90 448.9h0 M361.06 448.0h0 M361.21 452.1h0 M361.36 454.5h0 M361.51 457.2h0 M361.66 455.6h0 M361.82 454.0h0 M361.97 457.1h0 M362.12 453.9h0 M362.27 450.0h0 M362.42 446.3h0 M362.58 443.4h0 M362.73 437.3h0 M362.88 436.1h0 M363.03 435.6h0 M363.18 437.7h0 M363.34 436.9h0 M363.49 435.8h0 M363.64 433.9h0 M363.79 437.5h0 M363.94 439.5h0 M364.10 441.0h0 M364.25 448.7h0 M364.40 451.4h0 M364.55 456.2h0 M364.70 451.3h0 M364.86 456.2h0 M365.01 449.8h0 M365.16 449.3h0 M365.31 448.9h0 M365.46 448.5h0 M365.62 443.4h0 M365.77 446.9h0 M365.92 438.8h0 M366.07 437.4h0 M366.22 430.2h0 M366.38 430.9h0 M366.53 431.1h0 M366.68 434.0h0 M366.83 434.4h0 M366.98 440.5h0 M367.14 440.0h0 M367.29 443.0h0 M367.44 445.5h0 M367.59 448.3h0 M367.74 457.5h0 M367.90 458.3h0 M368.05 462.6h0 M368.20 460.2h0 M368.35 462.1h0 M368.50 460.4h0 M368.66 461.1h0 M368.81 457.9h0 M368.96 458.4h0 M369.11 454.9h0 M369.26 456.4h0 M369.42 454.4h0 M369.57 449.0h0 M369.72 448.9h0 M369.87 447.7h0 M370.02 448.9h0 M370.18 448.6h0 M370.33 449.4h0 M370.48 451.1h0 M370.63 455.4h0 M370.78 454.1h0 M370.94 457.2h0 M371.09 458.2h0 M371.24 455.7h0 M371.39 461.0h0 M371.54 464.2h0 M371.70 461.4h0 M371.85 464.6h0 M372.00 458.5h0 M372.15 458.6h0 M372.30 456.6h0 M372.46 452.3h0 M372.61 451.5h0 M372.76 448.8h0 M372.91 448.0h0 M373.06 441.1h0 M373.22 440.9h0 M373.37 441.4h0 M373.52 434.5h0 M373.67 433.2h0 M373.82 435.4h0 M373.98 435.9h0 M374.13 437.0h0 M374.28 442.9h0 M374.43 441.5h0 M374.58 441.3h0 M374.74 444.4h0 M374.89 446.3h0 M375.04 447.0h0 M375.19 448.1h0 M375.34 453.1h0 M375.50 452.4h0 M375.65 453.1h0 M375.80 450.5h0 M375.95 451.4h0 M376.10 446.5h0 M376.26 440.6h0 M376.41 440.1h0 M376.56 436.5h0 M376.71 429.8h0 M376.86 423.0h0 M377.02 419.6h0 M377.17 416.6h0 M377.32 416.6h0 M377.47 413.1h0 M377.62 414.7h0 M377.78 411.0h0 M377.93 414.5h0 M378.08 420.9h0 M378.23 423.7h0 M378.38 439.0h0 M378.54 438.2h0 M378.69 443.3h0 M378.84 436.0h0 M378.99 445.1h0 M379.14 449.6h0 M379.30 444.9h0 M379.45 448.6h0 M379.60 447.2h0 M379.75 447.3h0 M379.90 440.1h0 M380.06 444.6h0 M380.21 426.0h0 M380.36 429.3h0 M380.51 424.6h0 M380.66 421.3h0 M380.82 418.7h0 M380.97 412.2h0 M381.12 409.3h0 M381.27 417.9h0 M381.42 408.3h0 M381.58 404.6h0 M381.73 408.0h0 M381.88 406.6h0 M382.03 423.3h0 M382.18 425.2h0 M382.34 424.5h0 M382.49 439.0h0 M382.64 432.8h0 M382.79 432.0h0 M382.94 446.1h0 M383.10 447.2h0 M383.25 437.4h0 M383.40 445.1h0 M383.55 450.7h0 M383.70 451.8h0 M383.86 441.2h0 M384.01 438.3h0 M384.16 442.2h0 M384.31 432.2h0 M384.46 428.3h0 M384.62 426.1h0 M384.77 422.5h0 M384.92 418.0h0 M385.07 413.9h0 M385.22 422.4h0 M385.38 419.6h0 M385.53 412.6h0 M385.68 405.8h0 M385.83 404.0h0 M385.98 408.4h0 M386.14 408.5h0 M386.29 411.6h0 M386.44 413.5h0 M386.59 418.0h0 M386.74 418.8h0 M386.90 430.6h0 M387.05 433.4h0 M387.20 435.3h0 M387.35 434.6h0 M387.50 434.4h0 M387.66 436.2h0 M387.81 432.4h0 M387.96 435.5h0 M388.11 436.3h0 M388.26 435.5h0 M388.42 436.8h0 M388.57 440.7h0 M388.72 429.8h0 M388.87 431.7h0 M389.02 421.4h0 M389.18 424.4h0 M389.33 418.2h0 M389.48 417.6h0 M389.63 411.9h0 M389.78 414.5h0 M389.94 409.9h0 M390.09 414.4h0 M390.24 406.9h0 M390.39 405.4h0 M390.54 405.5h0 M390.70 412.8h0 M390.85 413.2h0 M391.00 413.3h0 M391.15 420.5h0 M391.30 421.5h0 M391.46 423.6h0 M391.61 427.1h0 M391.76 427.4h0 M391.91 423.5h0 M392.06 428.9h0 M392.22 425.7h0 M392.37 433.9h0 M392.52 434.0h0 M392.67 435.5h0 M392.82 432.8h0 M392.98 434.5h0 M393.13 428.5h0 M393.28 427.2h0 M393.43 420.8h0 M393.58 422.7h0 M393.74 421.3h0 M393.89 415.4h0 M394.04 414.7h0 M394.19 418.6h0 M394.34 416.1h0 M394.50 415.3h0 M394.65 412.9h0 M394.80 412.2h0 M394.95 405.6h0 M395.10 410.8h0 M395.26 409.5h0 M395.41 412.9h0 M395.56 412.5h0 M395.71 411.9h0 M395.86 417.3h0 M396.02 420.2h0 M396.17 420.1h0 M396.32 426.4h0 M396.47 423.4h0 M396.62 424.3h0 M396.78 427.3h0 M396.93 432.3h0 M397.08 433.1h0 M397.23 436.0h0 M397.38 433.1h0 M397.54 434.9h0 M397.69 439.0h0 M397.84 437.7h0 M397.99 432.2h0 M398.14 428.9h0 M398.30 422.7h0 M398.45 419.5h0 M398.60 416.0h0 M398.75 422.8h0 M398.90 420.2h0 M399.06 415.1h0 M399.21 415.6h0 M399.36 413.0h0 M399.51 414.6h0 M399.66 410.1h0 M399.82 408.6h0 M399.97 411.2h0 M400.12 409.4h0 M400.27 408.9h0 M400.42 414.5h0 M400.58 416.8h0 M400.73 424.1h0 M400.88 425.4h0 M401.03 425.7h0 M401.18 429.4h0 M401.34 431.4h0 M401.49 427.7h0 M401.64 430.9h0 M401.79 440.7h0 M401.94 440.7h0 M402.10 438.7h0 M402.25 446.7h0 M402.40 443.4h0 M402.55 443.0h0 M402.70 442.5h0 M402.86 441.7h0 M403.01 438.9h0 M403.16 439.1h0 M403.31 434.4h0 M403.46 428.2h0 M403.62 432.8h0 M403.77 426.6h0 M403.92 426.6h0 M404.07 420.5h0 M404.22 417.5h0 M404.38 413.9h0 M404.53 415.1h0 M404.68 419.5h0 M404.83 413.6h0 M404.98 414.7h0 M405.14 419.9h0 M405.29 421.2h0 M405.44 425.9h0 M405.59 428.5h0 M405.74 437.4h0 M405.90 439.1h0 M406.05 440.9h0 M406.20 436.9h0 M406.35 443.1h0 M406.50 448.9h0 M406.66 448.8h0 M406.81 460.1h0 M406.96 455.7h0 M407.11 456.8h0 M407.26 453.2h0 M407.42 457.1h0 M407.57 458.5h0 M407.72 444.8h0 M407.87 445.3h0 M408.02 443.0h0 M408.18 441.8h0 M408.33 431.5h0 M408.48 438.2h0 M408.63 429.2h0 M408.78 418.0h0 M408.94 416.0h0 M409.09 403.4h0 M409.24 396.3h0 M409.39 402.3h0 M409.54 394.9h0 M409.70 404.3h0 M409.85 397.7h0 M410.00 404.8h0 M410.15 419.8h0 M410.30 420.6h0 M410.46 425.0h0 M410.61 433.8h0 M410.76 438.2h0 M410.91 439.3h0 M411.06 442.8h0 M411.22 459.0h0 M411.37 465.9h0 M411.52 473.9h0 M411.67 474.4h0 M411.82 474.1h0 M411.98 462.1h0 M412.13 472.5h0 M412.28 455.8h0 M412.43 448.8h0 M412.58 461.0h0 M412.74 445.2h0 M412.89 436.3h0 M413.04 437.3h0 M413.19 439.5h0 M413.34 428.6h0 M413.50 426.6h0 M413.65 426.4h0 M413.80 422.2h0 M413.95 409.2h0 M414.10 409.9h0 M414.26 415.0h0 M414.41 421.6h0 M414.56 426.3h0 M414.71 426.8h0 M414.86 433.4h0 M415.02 432.1h0 M415.17 428.5h0 M415.32 439.2h0 M415.47 437.5h0 M415.62 443.0h0 M415.78 449.7h0 M415.93 453.5h0 M416.08 452.0h0 M416.23 451.2h0 M416.38 451.8h0 M416.54 455.7h0 M416.69 450.2h0 M416.84 444.5h0 M416.99 442.6h0 M417.14 444.7h0 M417.30 440.2h0 M417.45 441.2h0 M417.60 435.9h0 M417.75 437.4h0 M417.90 434.7h0 M418.06 432.7h0 M418.21 428.4h0 M418.36 423.3h0 M418.51 427.6h0 M418.66 426.5h0 M418.82 425.9h0 M418.97 429.2h0 M419.12 429.0h0 M419.27 429.3h0 M419.42 434.1h0 M419.58 432.1h0 M419.73 430.5h0 M419.88 435.1h0 M420.03 437.8h0 M420.18 438.8h0 M420.34 441.0h0 M420.49 437.9h0 M420.64 441.3h0 M420.79 439.4h0 M420.94 442.8h0 M421.10 441.3h0 M421.25 435.4h0 M421.40 433.2h0 M421.55 435.0h0 M421.70 427.7h0 M421.86 430.7h0 M422.01 424.1h0 M422.16 427.1h0 M422.31 417.8h0 M422.46 418.3h0 M422.62 414.6h0 M422.77 418.5h0 M422.92 417.1h0 M423.07 415.4h0 M423.22 419.3h0 M423.38 423.1h0 M423.53 421.0h0 M423.68 425.9h0 M423.83 428.6h0 M423.98 424.3h0 M424.14 427.2h0 M424.29 434.2h0 M424.44 441.1h0 M424.59 442.7h0 M424.74 441.6h0 M424.90 444.7h0 M425.05 433.3h0 M425.20 439.0h0 M425.35 429.7h0 M425.50 430.6h0 M425.66 427.4h0 M425.81 419.2h0 M425.96 423.3h0 M426.11 413.0h0 M426.26 418.1h0 M426.42 411.9h0 M426.57 408.3h0 M426.72 403.7h0 M426.87 402.5h0 M427.02 406.6h0 M427.18 416.8h0 M427.33 421.0h0 M427.48 420.7h0 M427.63 425.2h0 M427.78 428.6h0 M427.94 429.9h0 M428.09 432.6h0 M428.24 434.1h0 M428.39 438.9h0 M428.54 433.2h0 M428.70 435.1h0 M428.85 430.0h0 M429.00 425.7h0 M429.15 428.2h0 M429.30 417.5h0 M429.46 415.0h0 M429.61 411.5h0 M429.76 412.7h0 M429.91 405.0h0 M430.06 408.6h0 M430.22 397.1h0 M430.37 397.2h0 M430.52 396.0h0 M430.67 408.0h0 M430.82 403.0h0 M430.98 409.1h0 M431.13 419.6h0 M431.28 421.7h0 M431.43 426.1h0 M431.58 432.3h0 M431.74 434.2h0 M431.89 438.6h0 M432.04 431.9h0 M432.19 442.2h0 M432.34 440.0h0 M432.50 435.8h0 M432.65 425.7h0 M432.80 413.6h0 M432.95 407.5h0 M433.10 404.7h0 M433.26 404.4h0 M433.41 403.4h0 M433.56 403.8h0 M433.71 392.3h0 M433.86 393.1h0 M434.02 392.0h0 M434.17 405.4h0 M434.32 410.6h0 M434.47 421.2h0 M434.62 425.3h0 M434.78 434.1h0 M434.93 435.2h0 M435.08 436.3h0 M435.23 433.8h0 M435.38 441.7h0 M435.54 446.8h0 M435.69 446.6h0 M435.84 444.4h0 M435.99 430.6h0 M436.14 431.7h0 M436.30 417.4h0 M436.45 419.2h0 M436.60 409.2h0 M436.75 410.2h0 M436.90 410.1h0 M437.06 403.9h0 M437.21 408.4h0 M437.36 403.1h0 M437.51 409.3h0 M437.66 413.9h0 M437.82 421.5h0 M437.97 421.9h0 M438.12 428.0h0 M438.27 434.6h0 M438.42 440.9h0 M438.58 443.6h0 M438.73 443.8h0 M438.88 435.5h0 M439.03 438.4h0 M439.18 437.2h0 M439.34 429.3h0 M439.49 425.1h0 M439.64 412.9h0 M439.79 407.1h0 M439.94 408.6h0 M440.10 401.1h0 M440.25 401.0h0 M440.40 402.7h0 M440.55 409.9h0 M440.70 407.6h0 M440.86 409.3h0 M441.01 418.1h0 M441.16 427.7h0 M441.31 429.3h0 M441.46 444.6h0 M441.62 450.0h0 M441.77 448.5h0 M441.92 447.9h0 M442.07 440.5h0 M442.22 434.7h0 M442.38 440.5h0 M442.53 433.5h0 M442.68 427.7h0 M442.83 422.5h0 M442.98 417.7h0 M443.14 412.4h0 M443.29 403.5h0 M443.44 413.0h0 M443.59 406.7h0 M443.74 412.3h0 M443.90 423.8h0 M444.05 420.2h0 M444.20 424.3h0 M444.35 431.4h0 M444.50 432.2h0 M444.66 443.5h0 M444.81 451.2h0 M444.96 450.4h0 M445.11 454.1h0 M445.26 454.8h0 M445.42 438.4h0 M445.57 437.6h0 M445.72 429.7h0 M445.87 426.3h0 M446.02 423.2h0 M446.18 419.7h0 M446.33 409.5h0 M446.48 409.0h0 M446.63 412.8h0 M446.78 409.7h0 M446.94 420.1h0 M447.09 419.9h0 M447.24 430.1h0 M447.39 431.8h0 M447.54 434.9h0 M447.70 437.0h0 M447.85 442.3h0 M448.00 446.8h0 M448.15 447.2h0 M448.30 440.1h0 M448.46 431.6h0 M448.61 429.6h0 M448.76 417.4h0 M448.91 413.2h0 M449.06 412.0h0 M449.22 416.8h0 M449.37 416.2h0 M449.52 410.5h0 M449.67 411.6h0 M449.82 406.7h0 M449.98 415.3h0 M450.13 421.7h0 M450.28 420.6h0 M450.43 426.4h0 M450.58 432.6h0 M450.74 439.6h0 M450.89 434.8h0 M451.04 439.5h0 M451.19 438.1h0 M451.34 443.9h0 M451.50 440.1h0 M451.65 434.3h0 M451.80 430.8h0 M451.95 419.9h0 M452.10 424.0h0 M452.26 413.2h0 M452.41 418.3h0 M452.56 413.1h0 M452.71 414.6h0 M452.86 418.0h0 M453.02 424.2h0 M453.17 428.0h0 M453.32 428.7h0 M453.47 438.8h0 M453.62 450.3h0 M453.78 443.5h0 M453.93 447.1h0 M454.08 452.5h0 M454.23 447.4h0 M454.38 449.7h0 M454.54 445.2h0 M454.69 439.7h0 M454.84 438.2h0 M454.99 434.6h0 M455.14 420.2h0 M455.30 424.9h0 M455.45 416.8h0 M455.60 419.8h0 M455.75 423.6h0 M455.90 429.2h0 M456.06 431.5h0 M456.21 431.1h0 M456.36 438.9h0 M456.51 440.6h0 M456.66 449.5h0 M456.82 448.7h0 M456.97 456.5h0 M457.12 451.1h0 M457.27 445.1h0 M457.42 449.7h0 M457.58 439.6h0 M457.73 438.7h0 M457.88 439.7h0 M458.03 429.6h0 M458.18 424.9h0 M458.34 419.0h0 M458.49 419.8h0 M458.64 422.5h0 M458.79 426.9h0 M458.94 433.5h0 M459.10 432.2h0 M459.25 434.2h0 M459.40 439.4h0 M459.55 453.1h0 M459.70 457.6h0 M459.86 461.3h0 M460.01 469.6h0 M460.16 467.6h0 M460.31 458.0h0 M460.46 455.8h0 M460.62 452.3h0 M460.77 438.5h0 M460.92 439.8h0 M461.07 433.1h0 M461.22 426.6h0 M461.38 431.6h0 M461.53 422.6h0 M461.68 427.2h0 M461.83 421.5h0 M461.98 437.9h0 M462.14 437.2h0 M462.29 448.6h0 M462.44 452.6h0 M462.59 454.4h0 M462.74 454.9h0 M462.90 457.6h0 M463.05 467.3h0 M463.20 470.7h0 M463.35 466.5h0 M463.50 462.5h0 M463.66 460.4h0 M463.81 450.9h0 M463.96 447.4h0 M464.11 442.3h0 M464.26 445.8h0 M464.42 443.3h0 M464.57 443.9h0 M464.72 443.8h0 M464.87 437.3h0 M465.02 442.5h0 M465.18 442.5h0 M465.33 447.2h0 M465.48 454.5h0 M465.63 460.9h0 M465.78 466.8h0 M465.94 468.2h0 M466.09 465.3h0 M466.24 468.9h0 M466.39 471.1h0 M466.54 466.4h0 M466.70 464.8h0 M466.85 461.8h0 M467.00 461.7h0 M467.15 457.1h0 M467.30 447.3h0 M467.46 448.0h0 M467.61 446.4h0 M467.76 442.4h0 M467.91 444.0h0 M468.06 450.2h0 M468.22 446.0h0 M468.37 449.8h0 M468.52 451.7h0 M468.67 457.6h0 M468.82 459.8h0 M468.98 465.8h0 M469.13 467.7h0 M469.28 468.5h0 M469.43 469.9h0 M469.58 470.8h0 M469.74 467.8h0 M469.89 470.4h0 M470.04 463.0h0 M470.19 464.5h0 M470.34 456.4h0 M470.50 457.9h0 M470.65 450.6h0 M470.80 446.3h0 M470.95 449.1h0 M471.10 447.6h0 M471.26 449.1h0 M471.41 455.8h0 M471.56 452.0h0 M471.71 452.9h0 M471.86 454.6h0 M472.02 461.9h0 M472.17 464.1h0 M472.32 474.4h0 M472.47 475.4h0 M472.62 477.4h0 M472.78 477.0h0 M472.93 481.3h0 M473.08 479.9h0 M473.23 477.8h0 M473.38 469.1h0 M473.54 471.0h0 M473.69 462.2h0 M473.84 465.6h0 M473.99 458.6h0 M474.14 447.2h0 M474.30 444.6h0 M474.45 438.7h0 M474.60 440.8h0 M474.75 446.9h0 M474.90 444.2h0 M475.06 453.0h0 M475.21 452.8h0 M475.36 455.8h0 M475.51 459.2h0 M475.66 456.9h0 M475.82 466.6h0 M475.97 466.1h0 M476.12 468.7h0 M476.27 466.7h0 M476.42 472.9h0 M476.58 466.6h0 M476.73 463.1h0 M476.88 461.2h0 M477.03 458.7h0 M477.18 453.9h0 M477.34 446.1h0 M477.49 444.0h0 M477.64 437.4h0 M477.79 436.0h0 M477.94 434.2h0 M478.10 439.9h0 M478.25 436.3h0 M478.40 447.2h0 M478.55 450.9h0 M478.70 456.0h0 M478.86 454.6h0 M479.01 459.6h0 M479.16 462.8h0 M479.31 460.0h0 M479.46 460.6h0 M479.62 462.6h0 M479.77 466.3h0 M479.92 464.5h0 M480.07 463.4h0 M480.22 461.5h0 M480.38 462.0h0 M480.53 455.3h0 M480.68 450.6h0 M480.83 451.1h0 M480.98 451.1h0 M481.14 442.1h0 M481.29 446.6h0 M481.44 441.1h0 M481.59 443.1h0 M481.74 436.6h0 M481.90 439.5h0 M482.05 446.2h0 M482.20 452.0h0 M482.35 452.5h0 M482.50 457.0h0 M482.66 453.6h0 M482.81 461.6h0 M482.96 458.7h0 M483.11 463.4h0 M483.26 460.7h0 M483.42 469.6h0 M483.57 465.5h0 M483.72 470.2h0 M483.87 463.5h0 M484.02 464.5h0 M484.18 459.9h0 M484.33 457.4h0 M484.48 457.3h0 M484.63 451.9h0 M484.78 447.9h0 M484.94 450.2h0 M485.09 451.9h0 M485.24 451.3h0 M485.39 443.5h0 M485.54 449.3h0 M485.70 449.8h0 M485.85 450.9h0 M486.00 447.8h0 M486.15 455.7h0 M486.30 457.3h0 M486.46 457.4h0 M486.61 460.8h0 M486.76 458.9h0 M486.91 460.9h0 M487.06 464.2h0 M487.22 461.4h0 M487.37 461.8h0 M487.52 467.8h0 M487.67 466.1h0 M487.82 467.0h0 M487.98 465.4h0 M488.13 464.1h0 M488.28 455.4h0 M488.43 454.8h0 M488.58 450.1h0 M488.74 452.5h0 M488.89 450.0h0 M489.04 453.1h0 M489.19 450.8h0 M489.34 446.0h0 M489.50 446.4h0 M489.65 444.5h0 M489.80 443.1h0 M489.95 442.8h0 M490.10 445.7h0 M490.26 447.3h0 M490.41 453.6h0 M490.56 456.6h0 M490.71 454.3h0 M490.86 456.3h0 M491.02 457.2h0 M491.17 464.1h0 M491.32 460.8h0 M491.47 461.5h0 M491.62 462.8h0 M491.78 466.6h0 M491.93 462.4h0 M492.08 467.2h0 M492.23 466.4h0 M492.38 463.8h0 M492.54 461.6h0 M492.69 461.6h0 M492.84 461.2h0 M492.99 456.9h0 M493.14 458.1h0 M493.30 457.1h0 M493.45 458.3h0 M493.60 455.6h0 M493.75 454.2h0 M493.90 457.1h0 M494.06 454.9h0 M494.21 455.8h0 M494.36 458.1h0 M494.51 457.4h0 M494.66 459.6h0 M494.82 460.2h0 M494.97 463.5h0 M495.12 464.2h0 M495.27 466.5h0 M495.42 470.1h0 M495.58 468.4h0 M495.73 471.6h0 M495.88 471.8h0 M496.03 470.5h0 M496.18 474.0h0 M496.34 472.6h0 M496.49 473.7h0 M496.64 476.3h0 M496.79 477.5h0 M496.94 477.1h0 M497.10 476.7h0 M497.25 473.0h0 M497.40 474.6h0 M497.55 470.8h0 M497.70 472.3h0 M497.86 472.6h0 M498.01 468.6h0 M498.16 468.2h0 M498.31 470.3h0 M498.46 467.9h0 M498.62 469.3h0 M498.77 470.2h0 M498.92 469.8h0 M499.07 467.2h0 M499.22 466.8h0 M499.38 471.2h0 M499.53 469.1h0 M499.68 470.5h0 M499.83 474.8h0 M499.98 475.2h0 M500.14 474.4h0 M500.29 479.0h0 M500.44 478.3h0 M500.59 479.9h0 M500.74 479.8h0 M500.90 483.2h0 M501.05 483.1h0 M501.20 482.1h0 M501.35 485.0h0 M501.50 485.4h0 M501.66 483.3h0 M501.81 483.7h0 M501.96 481.5h0 M502.11 480.0h0 M502.26 479.4h0 M502.42 477.6h0 M502.57 473.6h0 M502.72 472.6h0 M502.87 474.2h0 M503.02 473.6h0 M503.18 472.1h0 M503.33 471.6h0 M503.48 470.1h0 M503.63 470.6h0 M503.78 467.7h0 M503.94 467.1h0 M504.09 470.9h0 M504.24 471.9h0 M504.39 473.9h0 M504.54 473.3h0 M504.70 473.3h0 M504.85 474.4h0 M505.00 475.0h0 M505.15 476.9h0 M505.30 476.7h0 M505.46 478.9h0 M505.61 478.8h0 M505.76 478.5h0 M505.91 479.4h0 M506.06 482.3h0 M506.22 482.8h0 M506.37 480.8h0 M506.52 480.8h0 M506.67 480.2h0 M506.82 479.5h0 M506.98 475.1h0 M507.13 474.2h0 M507.28 473.0h0 M507.43 474.4h0 M507.58 472.1h0 M507.74 472.5h0 M507.89 473.7h0 M508.04 471.5h0 M508.19 472.4h0 M508.34 468.0h0 M508.50 469.5h0 M508.65 470.7h0 M508.80 472.2h0 M508.95 469.6h0 M509.10 471.0h0 M509.26 474.0h0 M509.41 473.7h0 M509.56 476.4h0 M509.71 476.3h0 M509.86 476.7h0 M510.02 479.2h0 M510.17 481.0h0 M510.32 480.9h0 M510.47 481.9h0 M510.62 485.5h0 M510.78 485.2h0 M510.93 482.7h0 M511.08 485.7h0 M511.23 484.8h0 M511.38 481.6h0 M511.54 477.7h0 M511.69 474.1h0 M511.84 474.6h0 M511.99 472.4h0 M512.14 473.9h0 M512.30 468.3h0 M512.45 468.0h0 M512.60 470.3h0 M512.75 466.1h0 M512.90 462.8h0 M513.06 461.3h0 M513.21 460.4h0 M513.36 461.5h0 M513.51 465.1h0 M513.66 468.6h0 M513.82 473.1h0 M513.97 472.9h0 M514.12 476.4h0 M514.27 477.6h0 M514.42 481.6h0 M514.58 482.9h0 M514.73 476.9h0 M514.88 479.7h0 M515.03 480.8h0 M515.18 486.9h0 M515.34 490.6h0 M515.49 490.3h0 M515.64 485.9h0 M515.79 488.4h0 M515.94 486.0h0 M516.10 481.9h0 M516.25 486.2h0 M516.40 483.9h0 M516.55 478.5h0 M516.70 482.0h0 M516.86 482.1h0 M517.01 480.9h0 M517.16 476.0h0 M517.31 474.7h0 M517.46 470.4h0 M517.62 474.6h0 M517.77 471.7h0 M517.92 466.9h0 M518.07 470.4h0 M518.22 473.8h0 M518.38 473.3h0 M518.53 472.2h0 M518.68 476.7h0 M518.83 480.2h0 M518.98 476.1h0 M519.14 476.8h0 M519.29 481.9h0 M519.44 480.9h0 M519.59 482.8h0 M519.74 484.4h0 M519.90 482.9h0 M520.05 485.5h0 M520.20 486.4h0 M520.35 486.3h0 M520.50 487.0h0 M520.66 484.9h0 M520.81 482.5h0 M520.96 484.5h0 M521.11 481.5h0 M521.26 481.1h0 M521.42 477.6h0 M521.57 478.4h0 M521.72 479.4h0 M521.87 476.3h0 M522.02 478.2h0 M522.18 472.7h0 M522.33 472.4h0 M522.48 473.7h0 M522.63 471.1h0 M522.78 471.6h0 M522.94 475.5h0 M523.09 476.8h0 M523.24 477.6h0 M523.39 476.9h0 M523.54 481.0h0 M523.70 479.3h0 M523.85 481.7h0 M524.00 481.5h0 M524.15 482.9h0 M524.30 486.5h0 M524.46 486.6h0 M524.61 492.2h0 M524.76 489.3h0 M524.91 489.1h0 M525.06 490.7h0 M525.22 487.4h0 M525.37 488.4h0 M525.52 489.3h0 M525.67 487.1h0 M525.82 485.4h0 M525.98 486.3h0 M526.13 484.7h0 M526.28 486.0h0 M526.43 481.9h0 M526.58 481.0h0 M526.74 483.0h0 M526.89 484.1h0 M527.04 483.3h0 M527.19 481.8h0 M527.34 482.7h0 M527.50 486.8h0 M527.65 487.7h0 M527.80 488.5h0 M527.95 490.2h0 M528.10 486.8h0 M528.26 490.8h0 M528.41 491.8h0 M528.56 494.0h0 M528.71 492.0h0 M528.86 495.1h0 M529.02 492.4h0 M529.17 495.4h0 M529.32 491.8h0 M529.47 492.2h0 M529.62 490.0h0 M529.78 489.1h0 M529.93 487.8h0 M530.08 486.9h0 M530.23 485.1h0 M530.38 484.6h0 M530.54 482.0h0 M530.69 482.1h0 M530.84 481.1h0 M530.99 480.2h0 M531.14 481.4h0 M531.30 484.5h0 M531.45 485.3h0 M531.60 488.2h0 M531.75 487.4h0 M531.90 488.7h0 M532.06 491.6h0 M532.21 492.5h0 M532.36 492.8h0 M532.51 493.7h0 M532.66 496.8h0 M532.82 495.5h0 M532.97 497.9h0 M533.12 496.9h0 M533.27 495.9h0 M533.42 492.4h0 M533.58 491.4h0 M533.73 492.4h0 M533.88 493.6h0 M534.03 490.4h0 M534.18 489.5h0 M534.34 491.2h0 M534.49 489.3h0 M534.64 489.5h0 M534.79 491.4h0 M534.94 492.4h0 M535.10 492.4h0 M535.25 496.0h0 M535.40 494.1h0 M535.55 497.9h0 M535.70 496.5h0 M535.86 499.3h0 M536.01 497.2h0 M536.16 498.8h0 M536.31 501.7h0 M536.46 500.3h0 M536.62 499.8h0 M536.77 499.8h0 M536.92 496.7h0 M537.07 497.9h0 M537.22 495.4h0 M537.38 491.0h0 M537.53 491.8h0 M537.68 488.7h0 M537.83 490.4h0 M537.98 486.1h0 M538.14 486.4h0 M538.29 482.6h0 M538.44 484.9h0 M538.59 484.5h0 M538.74 484.2h0 M538.90 487.3h0 M539.05 492.6h0 M539.20 495.5h0 M539.35 496.7h0 M539.50 496.6h0 M539.66 494.6h0 M539.81 499.6h0 M539.96 500.4h0 M540.11 502.5h0 M540.26 499.8h0 M540.42 500.9h0 M540.57 500.5h0 M540.72 495.6h0 M540.87 491.0h0 M541.02 492.1h0 M541.18 491.6h0 M541.33 487.9h0 M541.48 485.1h0 M541.63 485.3h0 M541.78 486.7h0 M541.94 485.5h0 M542.09 486.8h0 M542.24 486.0h0 M542.39 489.9h0 M542.54 494.8h0 M542.70 497.8h0 M542.85 497.4h0 M543.00 500.3h0 M543.15 498.4h0 M543.30 500.0h0 M543.46 501.5h0 M543.61 500.0h0 M543.76 502.7h0 M543.91 500.1h0 M544.06 498.3h0 M544.22 495.2h0 M544.37 495.0h0 M544.52 491.5h0 M544.67 492.0h0 M544.82 491.7h0 M544.98 491.4h0 M545.13 489.5h0 M545.28 492.0h0 M545.43 491.5h0 M545.58 490.8h0 M545.74 493.8h0 M545.89 494.0h0 M546.04 495.8h0 M546.19 498.1h0 M546.34 500.1h0 M546.50 499.8h0 M546.65 501.6h0 M546.80 499.8h0 M546.95 500.2h0 M547.10 500.8h0 M547.26 498.1h0 M547.41 499.7h0 M547.56 497.9h0 M547.71 494.7h0 M547.86 494.1h0 M548.02 489.7h0 M548.17 488.9h0 M548.32 493.4h0 M548.47 491.1h0 M548.62 491.4h0 M548.78 493.5h0 M548.93 495.6h0 M549.08 496.4h0 M549.23 496.8h0 M549.38 497.5h0 M549.54 499.8h0 M549.69 500.3h0 M549.84 498.5h0 M549.99 497.3h0 M550.14 496.6h0 M550.30 498.5h0 M550.45 497.0h0 M550.60 493.4h0 M550.75 490.7h0 M550.90 491.0h0 M551.06 485.3h0 M551.21 487.7h0 M551.36 485.6h0 M551.51 484.3h0 M551.66 488.6h0 M551.82 491.0h0 M551.97 495.3h0 M552.12 495.2h0 M552.27 493.8h0 M552.42 496.3h0 M552.58 497.2h0 M552.73 499.7h0 M552.88 500.8h0 M553.03 501.4h0 M553.18 499.9h0 M553.34 494.2h0 M553.49 495.1h0 M553.64 492.1h0 M553.79 490.1h0 M553.94 490.9h0 M554.10 491.4h0 M554.25 490.0h0 M554.40 489.9h0 M554.55 487.7h0 M554.70 490.3h0 M554.86 493.1h0 M555.01 494.7h0 M555.16 498.0h0 M555.31 499.2h0 M555.46 498.9h0 M555.62 497.3h0 M555.77 499.0h0 M555.92 501.9h0 M556.07 502.2h0 M556.22 500.6h0 M556.38 496.3h0 M556.53 495.1h0 M556.68 491.8h0 M556.83 493.7h0 M556.98 489.8h0 M557.14 491.4h0 M557.29 490.6h0 M557.44 490.0h0 M557.59 491.5h0 M557.74 492.1h0 M557.90 489.2h0 M558.05 493.9h0 M558.20 494.8h0 M558.35 497.4h0 M558.50 498.1h0 M558.66 500.2h0 M558.81 499.3h0 M558.96 499.9h0 M559.11 497.5h0 M559.26 499.8h0 M559.42 499.3h0 M559.57 493.3h0 M559.72 490.8h0 M559.87 488.3h0 M560.02 487.3h0 M560.18 487.7h0 M560.33 489.5h0 M560.48 486.8h0 M560.63 486.8h0 M560.78 487.6h0 M560.94 491.7h0 M561.09 490.9h0 M561.24 495.7h0 M561.39 499.3h0 M561.54 498.4h0 M561.70 502.5h0 M561.85 499.8h0 M562.00 500.5h0 M562.15 497.9h0 M562.30 496.9h0 M562.46 496.0h0 M562.61 495.5h0 M562.76 493.7h0 M562.91 491.5h0 M563.06 487.1h0 M563.22 489.8h0 M563.37 486.1h0 M563.52 490.5h0 M563.67 491.7h0 M563.82 492.5h0 M563.98 496.0h0 M564.13 496.9h0 M564.28 498.9h0 M564.43 499.9h0 M564.58 502.7h0 M564.74 502.2h0 M564.89 503.4h0 M565.04 502.7h0 M565.19 503.3h0 M565.34 501.6h0 M565.50 501.3h0 M565.65 499.4h0 M565.80 495.5h0 M565.95 495.0h0 M566.10 491.0h0 M566.26 489.4h0 M566.41 488.1h0 M566.56 487.0h0 M566.71 488.9h0 M566.86 493.9h0 M567.02 495.7h0 M567.17 493.8h0 M567.32 496.8h0 M567.47 496.8h0 M567.62 501.6h0 M567.78 499.7h0 M567.93 502.7h0 M568.08 505.5h0 M568.23 501.3h0 M568.38 494.2h0 M568.54 495.6h0 M568.69 489.4h0 M568.84 482.5h0 M568.99 480.3h0 M569.14 482.7h0 M569.30 478.1h0 M569.45 476.7h0 M569.60 472.7h0 M569.75 473.2h0 M569.90 476.8h0 M570.06 481.0h0 M570.21 488.4h0 M570.36 491.1h0 M570.51 492.7h0 M570.66 494.4h0 M570.82 497.3h0 M570.97 501.0h0 M571.12 496.3h0 M571.27 499.4h0 M571.42 495.7h0 M571.58 492.1h0 M571.73 488.9h0 M571.88 485.4h0 M572.03 485.1h0 M572.18 485.0h0 M572.34 481.6h0 M572.49 483.5h0 M572.64 484.9h0 M572.79 483.6h0 M572.94 483.7h0 M573.10 488.5h0 M573.25 491.7h0 M573.40 494.0h0 M573.55 494.0h0 M573.70 498.4h0 M573.86 498.8h0 M574.01 500.2h0 M574.16 496.8h0 M574.31 496.2h0 M574.46 498.5h0 M574.62 497.7h0 M574.77 495.5h0 M574.92 494.3h0 M575.07 489.3h0 M575.22 487.3h0 M575.38 485.4h0 M575.53 486.8h0 M575.68 485.6h0 M575.83 487.3h0 M575.98 490.7h0 M576.14 490.9h0 M576.29 490.5h0 M576.44 491.2h0 M576.59 496.5h0 M576.74 500.5h0 M576.90 500.2h0 M577.05 502.7h0 M577.20 502.2h0 M577.35 503.7h0 M577.50 501.2h0 M577.66 497.4h0 M577.81 496.8h0 M577.96 495.3h0 M578.11 497.5h0 M578.26 496.5h0 M578.42 494.3h0 M578.57 489.3h0 M578.72 486.6h0 M578.87 488.4h0 M579.02 491.8h0 M579.18 488.9h0 M579.33 492.2h0 M579.48 492.6h0 M579.63 497.4h0 M579.78 497.5h0 M579.94 497.8h0 M580.09 500.4h0 M580.24 505.6h0 M580.39 507.1h0 M580.54 507.2h0 M580.70 507.0h0 M580.85 506.4h0 M581.00 503.4h0 M581.15 501.2h0 M581.30 501.5h0 M581.46 501.0h0 M581.61 499.3h0 M581.76 499.2h0 M581.91 495.5h0 M582.06 494.2h0 M582.22 493.1h0 M582.37 495.6h0 M582.52 495.1h0 M582.67 497.3h0 M582.82 497.6h0 M582.98 498.7h0 M583.13 501.1h0 M583.28 500.3h0 M583.43 503.9h0 M583.58 501.4h0 M583.74 503.4h0 M583.89 507.5h0 M584.04 507.4h0 M584.19 504.8h0 M584.34 504.0h0 M584.50 504.0h0 M584.65 502.9h0 M584.80 503.6h0 M584.95 502.3h0 M585.10 500.6h0 M585.26 499.3h0 M585.41 499.2h0 M585.56 498.9h0 M585.71 498.6h0 M585.86 496.4h0 M586.02 495.6h0 M586.17 496.2h0 M586.32 500.3h0 M586.47 502.2h0 M586.62 502.3h0 M586.78 501.2h0 M586.93 502.9h0 M587.08 502.6h0 M587.23 504.2h0 M587.38 504.9h0 M587.54 506.7h0 M587.69 506.9h0 M587.84 507.3h0 M587.99 508.6h0 M588.14 504.3h0 M588.30 505.3h0 M588.45 505.0h0 M588.60 503.6h0 M588.75 501.8h0 M588.90 500.3h0 M589.06 501.2h0 M589.21 500.7h0 M589.36 500.4h0 M589.51 499.9h0 M589.66 497.6h0 M589.82 499.7h0 M589.97 501.8h0 M590.12 501.2h0 M590.27 503.0h0 M590.42 506.0h0 M590.58 504.8h0 M590.73 504.7h0 M590.88 505.2h0 M591.03 508.3h0 M591.18 507.2h0 M591.34 508.8h0 M591.49 509.0h0 M591.64 509.3h0 M591.79 510.0h0 M591.94 507.5h0 M592.10 507.1h0 M592.25 507.5h0 M592.40 505.5h0 M592.55 505.8h0 M592.70 502.9h0 M592.86 505.1h0 M593.01 504.7h0 M593.16 503.6h0 M593.31 501.7h0 M593.46 501.9h0 M593.62 502.3h0 M593.77 503.4h0 M593.92 504.5h0 M594.07 502.9h0 M594.22 506.6h0 M594.38 508.2h0 M594.53 507.1h0 M594.68 510.2h0 M594.83 508.3h0 M594.98 510.9h0 M595.14 511.2h0 M595.29 509.6h0 M595.44 511.8h0 M595.59 511.1h0 M595.74 511.7h0 M595.90 509.7h0 M596.05 510.1h0 M596.20 510.3h0 M596.35 507.3h0 M596.50 507.4h0 M596.66 506.9h0 M596.81 504.7h0 M596.96 504.3h0 M597.11 504.6h0 M597.26 503.7h0 M597.42 504.2h0 M597.57 503.6h0 M597.72 505.1h0 M597.87 504.8h0 M598.02 503.8h0 M598.18 505.7h0 M598.33 505.1h0 M598.48 505.4h0 M598.63 507.3h0 M598.78 508.1h0 M598.94 508.5h0 M599.09 508.1h0 M599.24 508.1h0 M599.39 508.0h0 M599.54 508.3h0 M599.70 509.2h0 M599.85 508.6h0 M600.00 510.1h0 M600.15 509.2h0 M600.30 508.2h0 M600.46 507.5h0 M600.61 508.6h0 M600.76 507.1h0 M600.91 506.2h0 M601.06 506.4h0 M601.22 504.5h0 M601.37 504.7h0 M601.52 505.1h0 M601.67 503.4h0 M601.82 503.2h0 M601.98 503.5h0 M602.13 504.4h0 M602.28 503.1h0 M602.43 502.2h0 M602.58 503.7h0 M602.74 503.6h0 M602.89 503.4h0 M603.04 506.2h0 M603.19 506.8h0 M603.34 507.1h0 M603.50 506.6h0 M603.65 507.8h0 M603.80 506.1h0 M603.95 506.5h0 M604.10 507.0h0 M604.26 508.2h0 M604.41 507.7h0 M604.56 506.3h0 M604.71 507.2h0 M604.86 506.7h0 M605.02 506.0h0 M605.17 505.3h0 M605.32 505.9h0 M605.47 504.1h0 M605.62 502.6h0 M605.78 502.7h0 M605.93 503.6h0 M606.08 501.2h0 M606.23 500.9h0 M606.38 502.4h0 M606.54 500.6h0 M606.69 500.9h0 M606.84 500.9h0 M606.99 499.4h0 M607.14 501.2h0 M607.30 502.1h0 M607.45 501.0h0 M607.60 502.3h0 M607.75 502.2h0 M607.90 503.5h0 M608.06 504.8h0 M608.21 503.9h0 M608.36 504.1h0 M608.51 504.0h0 M608.66 505.0h0 M608.82 504.8h0 M608.97 505.7h0 M609.12 505.3h0 M609.27 504.9h0 M609.42 506.3h0 M609.58 505.9h0 M609.73 504.6h0 M609.88 505.5h0 M610.03 503.6h0 M610.18 503.6h0 M610.34 501.2h0 M610.49 501.9h0 M610.64 501.5h0 M610.79 501.4h0 M610.94 501.4h0 M611.10 499.8h0 M611.25 498.3h0 M611.40 498.0h0 M611.55 498.9h0 M611.70 498.4h0 M611.86 500.0h0 M612.01 500.2h0 M612.16 498.4h0 M612.31 499.9h0 M612.46 500.1h0 M612.62 503.2h0 M612.77 504.0h0 M612.92 504.9h0 M613.07 503.6h0 M613.22 505.1h0 M613.38 504.0h0 M613.53 504.8h0 M613.68 505.1h0 M613.83 506.3h0 M613.98 507.3h0 M614.14 507.6h0 M614.29 505.6h0 M614.44 506.9h0 M614.59 507.8h0 M614.74 505.1h0 M614.90 505.6h0 M615.05 503.5h0 M615.20 505.0h0 M615.35 502.8h0 M615.50 502.2h0 M615.66 504.3h0 M615.81 504.1h0 M615.96 501.5h0 M616.11 502.1h0 M616.26 501.4h0 M616.42 501.2h0 M616.57 501.5h0 M616.72 502.0h0 M616.87 502.5h0 M617.02 503.5h0 M617.18 504.7h0 M617.33 504.5h0 M617.48 504.6h0 M617.63 506.8h0 M617.78 505.2h0 M617.94 507.8h0 M618.09 507.6h0 M618.24 507.3h0 M618.39 507.2h0 M618.54 508.4h0 M618.70 508.7h0 M618.85 510.0h0 M619.00 509.7h0 M619.15 508.8h0 M619.30 508.6h0 M619.46 508.5h0 M619.61 507.9h0 M619.76 509.4h0 M619.91 507.2h0 M620.06 507.3h0 M620.22 506.5h0 M620.37 507.9h0 M620.52 507.8h0 M620.67 505.5h0 M620.82 507.2h0 M620.98 506.7h0 M621.13 506.0h0 M621.28 503.8h0 M621.43 503.4h0 M621.58 505.0h0 M621.74 505.0h0 M621.89 505.6h0 M622.04 506.5h0 M622.19 506.7h0 M622.34 507.3h0 M622.50 507.0h0 M622.65 507.2h0 M622.80 508.5h0 M622.95 507.5h0 M623.10 509.3h0 M623.26 507.3h0 M623.41 509.7h0 M623.56 508.2h0 M623.71 509.9h0 M623.86 511.3h0 M624.02 509.0h0 M624.17 509.3h0 M624.32 508.5h0 M624.47 509.5h0 M624.62 507.1h0 M624.78 508.0h0 M624.93 505.9h0 M625.08 508.1h0 M625.23 506.3h0 M625.38 507.7h0 M625.54 507.3h0 M625.69 506.1h0 M625.84 505.5h0 M625.99 504.4h0 M626.14 504.2h0 M626.30 503.0h0 M626.45 504.2h0 M626.60 504.2h0 M626.75 506.1h0 M626.90 507.6h0 M627.06 507.2h0 M627.21 507.0h0 M627.36 507.7h0 M627.51 507.4h0 M627.66 507.6h0 M627.82 509.5h0 M627.97 510.7h0 M628.12 511.6h0 M628.27 512.0h0 M628.42 511.8h0 M628.58 512.5h0 M628.73 511.0h0 M628.88 511.8h0 M629.03 509.2h0 M629.18 508.6h0 M629.34 509.8h0 M629.49 509.5h0 M629.64 508.7h0 M629.79 508.6h0 M629.94 508.0h0 M630.10 508.1h0 M630.25 505.9h0 M630.40 506.3h0 M630.55 506.5h0 M630.70 506.1h0 M630.86 506.3h0 M631.01 506.2h0 M631.16 508.5h0 M631.31 508.4h0 M631.46 508.9h0 M631.62 508.4h0 M631.77 511.1h0 M631.92 510.2h0 M632.07 509.5h0 M632.22 512.0h0 M632.38 511.0h0 M632.53 512.9h0 M632.68 512.2h0 M632.83 513.4h0 M632.98 513.3h0 M633.14 512.1h0 M633.29 511.7h0 M633.44 509.5h0 M633.59 510.5h0 M633.74 510.3h0 M633.90 508.9h0 M634.05 509.7h0 M634.20 507.0h0 M634.35 507.3h0 M634.50 508.1h0 M634.66 505.4h0 M634.81 505.6h0 M634.96 505.6h0 M635.11 507.2h0 M635.26 507.5h0 M635.42 508.8h0 M635.57 508.0h0 M635.72 508.1h0 M635.87 509.9h0 M636.02 509.6h0 M636.18 509.3h0 M636.33 510.0h0 M636.48 511.7h0 M636.63 512.1h0 M636.78 512.7h0 M636.94 513.4h0 M637.09 511.8h0 M637.24 513.0h0 M637.39 510.3h0 M637.54 509.6h0 M637.70 509.2h0 M637.85 508.5h0 M638.00 507.9h0 M638.15 508.9h0 M638.30 508.4h0 M638.46 508.0h0 M638.61 506.5h0 M638.76 504.8h0 M638.91 506.2h0 M639.06 505.7h0 M639.22 505.6h0 M639.37 505.3h0 M639.52 507.7h0 M639.67 506.6h0 M639.82 508.8h0 M639.98 508.8h0 M640.13 510.9h0 M640.28 509.8h0 M640.43 510.1h0 M640.58 510.9h0 M640.74 512.8h0 M640.89 513.5h0 M641.04 510.9h0 M641.19 510.6h0 M641.34 510.8h0 M641.50 509.7h0 M641.65 507.4h0 M641.80 508.0h0 M641.95 505.2h0 M642.10 505.3h0 M642.26 504.4h0 M642.41 504.6h0 M642.56 503.8h0 M642.71 503.1h0 M642.86 505.7h0 M643.02 505.4h0 M643.17 505.1h0 M643.32 508.6h0 M643.47 508.5h0 M643.62 508.0h0 M643.78 511.3h0 M643.93 509.1h0 M644.08 511.3h0 M644.23 510.1h0 M644.38 510.5h0 M644.54 511.4h0 M644.69 512.4h0 M644.84 512.9h0 M644.99 510.7h0 M645.14 510.7h0 M645.30 507.4h0 M645.45 507.3h0 M645.60 504.5h0 M645.75 506.9h0 M645.90 503.7h0 M646.06 506.2h0 M646.21 503.2h0 M646.36 503.5h0 M646.51 502.9h0 M646.66 503.4h0 M646.82 506.5h0 M646.97 507.9h0 M647.12 508.7h0 M647.27 513.9h0 M647.42 515.0h0 M647.58 513.7h0 M647.73 514.0h0 M647.88 512.7h0 M648.03 515.8h0 M648.18 513.9h0 M648.34 512.3h0 M648.49 514.4h0 M648.64 512.6h0 M648.79 506.9h0 M648.94 507.2h0 M649.10 504.3h0 M649.25 506.0h0 M649.40 505.9h0 M649.55 503.9h0 M649.70 505.9h0 M649.86 504.1h0 M650.01 504.6h0 M650.16 506.9h0 M650.31 506.6h0 M650.46 510.5h0 M650.62 509.9h0 M650.77 510.5h0 M650.92 510.3h0 M651.07 511.9h0 M651.22 511.3h0 M651.38 510.8h0 M651.53 511.8h0 M651.68 508.4h0 M651.83 509.6h0 M651.98 508.4h0 M652.14 504.3h0 M652.29 503.6h0 M652.44 502.1h0 M652.59 504.0h0 M652.74 503.4h0 M652.90 504.9h0 M653.05 504.6h0 M653.20 506.8h0 M653.35 506.3h0 M653.50 507.1h0 M653.66 508.4h0 M653.81 510.1h0 M653.96 510.1h0 M654.11 512.6h0 M654.26 513.6h0 M654.42 513.1h0 M654.57 510.8h0 M654.72 508.7h0 M654.87 510.1h0 M655.02 508.4h0 M655.18 508.7h0 M655.33 505.9h0 M655.48 506.4h0 M655.63 504.0h0 M655.78 502.4h0 M655.94 505.0h0 M656.09 504.2h0 M656.24 505.8h0 M656.39 508.3h0 M656.54 508.4h0 M656.70 506.8h0 M656.85 508.4h0 M657.00 509.5h0 M657.15 512.4h0 M657.30 511.4h0 M657.46 511.2h0 M657.61 511.2h0 M657.76 511.1h0 M657.91 510.7h0 M658.06 508.5h0 M658.22 509.0h0 M658.37 507.5h0 M658.52 506.2h0 M658.67 506.1h0 M658.82 504.1h0 M658.98 505.8h0 M659.13 505.5h0 M659.28 504.0h0 M659.43 507.3h0 M659.58 506.8h0 M659.74 508.8h0 M659.89 510.4h0 M660.04 511.8h0 M660.19 512.6h0 M660.34 511.2h0 M660.50 514.1h0 M660.65 514.1h0 M660.80 513.0h0 M660.95 513.5h0 M661.10 508.9h0 M661.26 510.4h0 M661.41 509.0h0 M661.56 505.1h0 M661.71 505.4h0 M661.86 505.4h0 M662.02 507.0h0 M662.17 506.5h0 M662.32 506.5h0 M662.47 505.9h0 M662.62 507.0h0 M662.78 509.7h0 M662.93 511.5h0 M663.08 510.6h0 M663.23 511.0h0 M663.38 512.0h0 M663.54 511.2h0 M663.69 513.6h0 M663.84 513.5h0 M663.99 513.2h0 M664.14 510.0h0 M664.30 510.7h0 M664.45 508.3h0 M664.60 506.6h0 M664.75 507.7h0 M664.90 507.9h0 M665.06 507.2h0 M665.21 506.4h0 M665.36 507.6h0 M665.51 508.1h0 M665.66 509.1h0 M665.82 509.3h0 M665.97 510.9h0 M666.12 513.8h0 M666.27 514.5h0 M666.42 512.0h0 M666.58 513.3h0 M666.73 511.3h0 M666.88 511.6h0 M667.03 513.1h0 M667.18 510.2h0 M667.34 509.3h0 M667.49 509.2h0 M667.64 507.9h0 M667.79 507.9h0 M667.94 507.7h0 M668.10 507.7h0 M668.25 507.9h0 M668.40 509.4h0 M668.55 510.6h0 M668.70 510.6h0 M668.86 510.3h0 M669.01 511.9h0 M669.16 512.7h0 M669.31 514.1h0 M669.46 513.6h0 M669.62 513.3h0 M669.77 513.7h0 M669.92 511.5h0 M670.07 509.6h0 M670.22 510.3h0 M670.38 509.3h0 M670.53 507.1h0 M670.68 505.8h0 M670.83 506.1h0 M670.98 503.9h0 M671.14 503.4h0 M671.29 505.8h0 M671.44 507.8h0 M671.59 509.3h0 M671.74 508.0h0 M671.90 509.9h0 M672.05 510.9h0 M672.20 510.9h0 M672.35 512.7h0 M672.50 513.0h0 M672.66 513.2h0 M672.81 512.8h0 M672.96 509.1h0 M673.11 509.7h0 M673.26 504.8h0 M673.42 506.2h0 M673.57 503.7h0 M673.72 504.3h0 M673.87 503.9h0 M674.02 505.7h0 M674.18 505.8h0 M674.33 506.3h0 M674.48 505.7h0 M674.63 509.9h0 M674.78 510.3h0 M674.94 513.2h0 M675.09 510.8h0 M675.24 512.2h0 M675.39 514.5h0 M675.54 514.4h0 M675.70 513.3h0 M675.85 514.0h0 M676.00 513.3h0 M676.15 510.2h0 M676.30 509.2h0 M676.46 510.5h0 M676.61 508.7h0 M676.76 508.5h0 M676.91 508.5h0 M677.06 509.8h0 M677.22 510.9h0 M677.37 511.8h0 M677.52 512.4h0 M677.67 511.4h0 M677.82 512.6h0 M677.98 513.4h0 M678.13 513.1h0 M678.28 513.2h0 M678.43 513.9h0 M678.58 513.7h0 M678.74 513.2h0 M678.89 513.9h0 M679.04 513.8h0 M679.19 513.1h0 M679.34 511.7h0 M679.50 511.0h0 M679.65 509.5h0 M679.80 509.4h0 M679.95 510.8h0 M680.10 510.7h0 M680.26 511.1h0 M680.41 511.1h0 M680.56 511.1h0 M680.71 510.7h0 M680.86 512.3h0 M681.02 513.0h0 M681.17 512.1h0 M681.32 512.0h0 M681.47 513.2h0 M681.62 513.8h0 M681.78 512.9h0 M681.93 512.8h0 M682.08 510.9h0 M682.23 512.3h0 M682.38 510.6h0 M682.54 511.4h0 M682.69 509.4h0 M682.84 508.6h0 M682.99 508.8h0 M683.14 507.6h0 M683.30 508.0h0 M683.45 508.5h0 M683.60 508.6h0 M683.75 510.1h0 M683.90 509.5h0 M684.06 509.0h0 M684.21 509.8h0 M684.36 511.2h0 M684.51 510.0h0 M684.66 511.9h0 M684.82 511.6h0 M684.97 512.6h0 M685.12 512.1h0 M685.27 509.7h0 M685.42 511.2h0 M685.58 510.7h0 M685.73 509.8h0 M685.88 508.0h0 M686.03 509.0h0 M686.18 508.1h0 M686.34 507.4h0 M686.49 505.4h0 M686.64 503.7h0 M686.79 503.2h0 M686.94 504.1h0 M687.10 505.2h0 M687.25 507.3h0 M687.40 508.8h0 M687.55 507.1h0 M687.70 507.3h0 M687.86 507.7h0" stroke="#2876d2" stroke-width="1.7" stroke-linecap="round" fill="none"/></g>
<!-- navigator -->
<rect x="132.5" y="542" width="556.5" height="17.5" fill="#fbfcfe"/>
<g stroke="#e6e6e6" stroke-width="0.8"><line x1="158.4" x2="158.4" y1="542" y2="559.5"/><line x1="231.7" x2="231.7" y1="542" y2="559.5"/><line x1="305.0" x2="305.0" y1="542" y2="559.5"/><line x1="378.3" x2="378.3" y1="542" y2="559.5"/><line x1="451.6" x2="451.6" y1="542" y2="559.5"/><line x1="524.9" x2="524.9" y1="542" y2="559.5"/><line x1="598.2" x2="598.2" y1="542" y2="559.5"/><line x1="671.5" x2="671.5" y1="542" y2="559.5"/></g>
<polygon points="138.2,559.5 138.2,544.3 142.0,546.4 144.9,549.3 147.8,546.4 150.8,549.3 153.7,547.2 156.6,549.3 159.6,548.4 162.5,550.8 165.4,553.7 168.3,550.2 171.3,554.6 175.7,555.2 181.5,556.6 190.3,556.9 197.6,556.3 202.0,553.7 206.4,549.3 209.4,545.8 212.3,547.0 215.2,544.9 218.2,544.3 221.1,546.4 225.5,546.4 229.9,548.4 234.3,549.3 237.2,552.2 241.6,554.6 246.0,555.7 250.4,554.6 254.8,556.3 260.6,556.9 269.4,557.2 276.8,556.3 281.1,553.7 285.5,551.6 289.9,550.8 294.3,551.6 298.7,550.2 303.1,551.1 307.5,550.2 311.9,551.6 316.3,553.7 322.2,552.8 328.0,555.2 333.9,556.0 342.7,556.9 351.5,557.2 358.8,556.6 363.2,553.7 367.6,550.8 372.0,547.8 374.9,549.3 379.3,547.2 383.7,548.4 388.1,547.0 391.0,547.8 394.0,546.4 398.3,549.3 400.0,548.4 404.4,549.3 408.8,551.6 413.2,554.6 420.5,556.3 429.3,556.6 435.2,555.7 441.0,552.8 445.4,549.3 448.3,546.4 451.3,547.2 454.2,548.4 457.1,546.4 460.1,548.7 463.0,545.8 465.9,548.4 468.0,544.9 470.3,550.2 474.7,550.8 479.1,552.8 485.0,555.2 493.8,556.3 505.5,556.3 511.3,554.6 517.2,551.6 521.6,549.9 526.0,548.4 530.4,547.8 534.8,548.4 537.7,549.3 540.6,546.4 543.6,548.4 548.0,550.2 552.4,552.2 558.2,553.1 564.1,554.6 572.9,556.0 581.7,556.6 590.4,556.9 599.2,556.6 605.1,555.7 609.5,553.7 612.4,550.8 615.4,552.2 619.7,551.6 624.1,551.6 628.5,550.5 632.9,551.1 635.9,549.6 640.3,551.6 644.7,553.1 649.0,555.2 654.9,556.3 663.7,556.9 672.5,557.2 687.1,556.9 687.1,559.5" fill="#edf4fb" opacity="0.8"/>
<rect x="592" y="542" width="81" height="17.5" fill="#d6e4f5" opacity="0.7"/>
<g filter="url(#soft2)"><polyline points="138.2,544.3 142.0,546.4 144.9,549.3 147.8,546.4 150.8,549.3 153.7,547.2 156.6,549.3 159.6,548.4 162.5,550.8 165.4,553.7 168.3,550.2 171.3,554.6 175.7,555.2 181.5,556.6 190.3,556.9 197.6,556.3 202.0,553.7 206.4,549.3 209.4,545.8 212.3,547.0 215.2,544.9 218.2,544.3 221.1,546.4 225.5,546.4 229.9,548.4 234.3,549.3 237.2,552.2 241.6,554.6 246.0,555.7 250.4,554.6 254.8,556.3 260.6,556.9 269.4,557.2 276.8,556.3 281.1,553.7 285.5,551.6 289.9,550.8 294.3,551.6 298.7,550.2 303.1,551.1 307.5,550.2 311.9,551.6 316.3,553.7 322.2,552.8 328.0,555.2 333.9,556.0 342.7,556.9 351.5,557.2 358.8,556.6 363.2,553.7 367.6,550.8 372.0,547.8 374.9,549.3 379.3,547.2 383.7,548.4 388.1,547.0 391.0,547.8 394.0,546.4 398.3,549.3 400.0,548.4 404.4,549.3 408.8,551.6 413.2,554.6 420.5,556.3 429.3,556.6 435.2,555.7 441.0,552.8 445.4,549.3 448.3,546.4 451.3,547.2 454.2,548.4 457.1,546.4 460.1,548.7 463.0,545.8 465.9,548.4 468.0,544.9 470.3,550.2 474.7,550.8 479.1,552.8 485.0,555.2 493.8,556.3 505.5,556.3 511.3,554.6 517.2,551.6 521.6,549.9 526.0,548.4 530.4,547.8 534.8,548.4 537.7,549.3 540.6,546.4 543.6,548.4 548.0,550.2 552.4,552.2 558.2,553.1 564.1,554.6 572.9,556.0 581.7,556.6 590.4,556.9 599.2,556.6 605.1,555.7 609.5,553.7 612.4,550.8 615.4,552.2 619.7,551.6 624.1,551.6 628.5,550.5 632.9,551.1 635.9,549.6 640.3,551.6 644.7,553.1 649.0,555.2 654.9,556.3 663.7,556.9 672.5,557.2 687.1,556.9" fill="none" stroke="#5d9ad6" stroke-width="0.8"/></g>
<line x1="132.5" x2="689" y1="542" y2="542" stroke="#d8d8d8" stroke-width="0.9"/>
<g font-family="Liberation Sans, sans-serif" font-size="4.9px" fill="#8a8a8a" filter="url(#soft2)"><text x="160.4" y="557.5">1950</text><text x="233.7" y="557.5">1960</text><text x="307.0" y="557.5">1970</text><text x="380.3" y="557.5">1980</text><text x="453.6" y="557.5">1990</text><text x="526.9" y="557.5">2000</text><text x="600.2" y="557.5">2010</text><text x="673.5" y="557.5">2020</text></g>
<rect x="132.5" y="559.5" width="556.5" height="5.5" fill="#efefef"/>
<rect x="592" y="559.3" width="81" height="5.7" fill="#bdbdbd"/>
<rect x="132.5" y="559.5" width="6" height="5.5" fill="#e3e3e3"/>
<rect x="682.5" y="559.5" width="6.5" height="5.5" fill="#e3e3e3"/>
<path d="M136.6 560.9v2.8l-2.2-1.4z M684.9 560.9v2.8l2.2-1.4z" fill="#555"/>
<path d="M631 561.3v2 M632.5 561.3v2 M634 561.3v2" stroke="#666" stroke-width="0.6"/>
<rect x="590" y="546.3" width="4" height="7.6" fill="#ececec" stroke="#b5b5b5" stroke-width="0.6"/>
<rect x="671" y="546.3" width="4" height="7.6" fill="#ececec" stroke="#b5b5b5" stroke-width="0.6"/>
<!-- logo -->
<rect x="902" y="440.7" width="95" height="105.3" fill="#0654a1"/>
<path d="M930.80 457.00C930.83 455.92 930.83 452.27 931.00 450.50C931.17 448.73 931.55 447.32 931.80 446.40C932.05 445.48 932.25 444.97 932.50 445.00C932.75 445.03 933.02 445.60 933.30 446.60C933.58 447.60 933.68 448.98 934.20 451.00C934.72 453.02 935.57 456.15 936.40 458.70C937.23 461.25 938.33 463.87 939.20 466.30C940.07 468.73 941.05 471.33 941.60 473.30C942.15 475.27 942.30 476.32 942.50 478.10C942.70 479.88 942.65 482.22 942.80 484.00C942.95 485.78 943.30 488.00 943.40 488.80C944.05 487.68 945.78 484.07 947.30 482.10C948.82 480.13 951.05 478.25 952.50 477.00C953.95 475.75 954.77 475.37 956.00 474.60C957.23 473.83 958.60 473.38 959.90 472.40C961.20 471.42 962.52 469.78 963.80 468.70C965.08 467.62 966.55 466.48 967.60 465.90C968.65 465.32 969.50 465.25 970.10 465.20C970.70 465.15 971.02 465.53 971.20 465.60L971.00 467.20C971.57 466.95 973.30 466.13 974.40 465.70C975.50 465.27 976.83 464.80 977.60 464.60C978.37 464.40 978.90 464.33 979.00 464.50C979.10 464.67 978.63 465.18 978.20 465.60C977.77 466.02 977.12 466.33 976.40 467.00C975.68 467.67 974.32 469.17 973.90 469.60C974.67 469.20 976.90 467.87 978.50 467.20C980.10 466.53 982.37 465.87 983.50 465.60C984.63 465.33 985.15 465.40 985.30 465.60C985.45 465.80 985.12 466.27 984.40 466.80C983.68 467.33 982.20 468.03 981.00 468.80C979.80 469.57 977.83 470.97 977.20 471.40C978.17 471.08 980.95 470.03 983.00 469.50C985.05 468.97 988.10 468.38 989.50 468.20C990.90 468.02 991.28 468.17 991.40 468.40C991.52 468.63 991.18 469.12 990.20 469.60C989.22 470.08 987.13 470.63 985.50 471.30C983.87 471.97 981.25 473.22 980.40 473.60C981.43 473.28 984.63 472.13 986.60 471.70C988.57 471.27 990.93 471.05 992.20 471.00C993.47 470.95 994.13 471.15 994.20 471.40C994.27 471.65 993.47 472.10 992.60 472.50C991.73 472.90 990.40 473.22 989.00 473.80C987.60 474.38 985.82 475.15 984.20 476.00C982.58 476.85 980.93 477.85 979.30 478.90C977.67 479.95 975.88 481.08 974.40 482.30C972.92 483.52 971.80 484.67 970.40 486.20C969.00 487.73 967.42 489.93 966.00 491.50C964.58 493.07 963.45 494.38 961.90 495.60C960.35 496.82 958.42 497.92 956.70 498.80C954.98 499.68 952.45 500.55 951.60 500.90C952.33 501.03 954.58 501.45 956.00 501.70C957.42 501.95 958.25 502.07 960.10 502.40C961.95 502.73 965.22 503.20 967.10 503.70C968.98 504.20 970.32 504.78 971.40 505.40C972.48 506.02 973.15 506.87 973.60 507.40C974.05 507.93 974.02 508.40 974.10 508.60C973.80 508.82 973.07 509.72 972.30 509.90C971.53 510.08 970.37 509.65 969.50 509.70C968.63 509.75 968.18 509.92 967.10 510.20C966.02 510.48 964.17 510.97 963.00 511.40C961.83 511.83 961.10 512.30 960.10 512.80C959.10 513.30 957.78 513.90 957.00 514.40C956.22 514.90 955.53 515.30 955.40 515.80C955.27 516.30 955.57 516.52 956.20 517.40C956.83 518.28 958.30 519.73 959.20 521.10C960.10 522.47 960.77 524.25 961.60 525.60C962.43 526.95 963.15 528.58 964.20 529.20C965.25 529.82 966.62 529.27 967.90 529.30C969.18 529.33 971.23 529.38 971.90 529.40C971.75 529.67 971.58 530.72 971.00 531.00C970.42 531.28 969.37 530.98 968.40 531.10C967.43 531.22 965.73 531.60 965.20 531.70C965.73 531.92 967.63 532.52 968.40 533.00C969.17 533.48 969.48 534.02 969.80 534.60C970.12 535.18 970.22 536.18 970.30 536.50C969.95 536.23 968.98 535.30 968.20 534.90C967.42 534.50 966.47 534.25 965.60 534.10C964.73 533.95 963.73 533.87 963.00 534.00C962.27 534.13 961.67 534.42 961.20 534.90C960.73 535.38 960.37 536.57 960.20 536.90C960.12 536.52 959.73 535.32 959.70 534.60C959.67 533.88 959.78 533.22 960.00 532.60C960.22 531.98 961.17 531.63 961.00 530.90C960.83 530.17 959.73 529.08 959.00 528.20C958.27 527.32 957.50 526.32 956.60 525.60C955.70 524.88 954.47 524.17 953.60 523.90C952.73 523.63 951.77 523.98 951.40 524.00C951.80 524.33 953.13 525.30 953.80 526.00C954.47 526.70 955.23 527.50 955.40 528.20C955.57 528.90 955.02 529.62 954.80 530.20C954.58 530.78 954.22 531.45 954.10 531.70C953.85 531.32 953.18 530.00 952.60 529.40C952.02 528.80 951.33 528.28 950.60 528.10C949.87 527.92 948.87 528.02 948.20 528.30C947.53 528.58 947.00 529.18 946.60 529.80C946.20 530.42 945.93 531.63 945.80 532.00C945.67 531.60 945.03 530.47 945.00 529.60C944.97 528.73 945.38 527.63 945.60 526.80C945.82 525.97 946.35 525.12 946.30 524.60C946.25 524.08 946.18 524.15 945.30 523.70C944.42 523.25 942.28 522.58 941.00 521.90C939.72 521.22 938.47 520.38 937.60 519.60C936.73 518.82 936.27 517.63 935.80 517.20C935.33 516.77 934.97 517.03 934.80 517.00C934.67 517.43 934.33 518.82 934.00 519.60C933.67 520.38 933.00 521.35 932.80 521.70L932.00 518.80L929.70 521.30L929.00 518.20L926.20 520.40L925.80 517.40L922.70 518.60L922.80 515.80L919.20 516.40L919.80 513.80L916.20 513.40L917.20 511.40L913.90 511.20L915.40 509.60L911.70 508.50C912.82 508.35 916.12 507.90 918.40 507.60C920.68 507.30 923.20 507.08 925.40 506.70C927.60 506.32 930.57 505.53 931.60 505.30C931.00 504.45 929.12 501.92 928.00 500.20C926.88 498.48 925.88 496.88 924.90 495.00C923.92 493.12 922.85 490.73 922.10 488.90C921.35 487.07 920.88 485.45 920.40 484.00C919.92 482.55 919.45 481.10 919.20 480.20C918.95 479.30 918.95 478.87 918.90 478.60L920.20 477.90C919.67 477.00 917.87 474.02 917.00 472.50C916.13 470.98 915.37 469.65 915.00 468.80C914.63 467.95 914.60 467.53 914.80 467.40C915.00 467.27 915.57 467.60 916.20 468.00C916.83 468.40 917.80 469.13 918.60 469.80C919.40 470.47 920.60 471.63 921.00 472.00C920.53 470.92 918.93 467.53 918.20 465.50C917.47 463.47 916.87 461.05 916.60 459.80C916.33 458.55 916.38 458.13 916.60 458.00C916.82 457.87 917.23 458.23 917.90 459.00C918.57 459.77 919.62 461.30 920.60 462.60C921.58 463.90 923.27 466.10 923.80 466.80C923.47 465.67 922.30 462.13 921.80 460.00C921.30 457.87 920.92 455.30 920.80 454.00C920.68 452.70 920.85 452.33 921.10 452.20C921.35 452.07 921.77 452.50 922.30 453.20C922.83 453.90 923.53 455.27 924.30 456.40C925.07 457.53 926.47 459.40 926.90 460.00C926.68 459.00 925.83 455.97 925.60 454.00C925.37 452.03 925.42 449.55 925.50 448.20C925.58 446.85 925.82 446.07 926.10 445.90C926.38 445.73 926.77 446.35 927.20 447.20C927.63 448.05 928.10 449.37 928.70 451.00C929.30 452.63 930.45 456.00 930.80 457.00Z" fill="#ffffff" stroke="#ffffff" stroke-width="0.25" stroke-linejoin="round"/>
<path d="M932 518.8l1.6-2.2M929 518.2l1.9-2.4M925.8 517.4l2.2-2.4M922.8 515.8l2.4-2.3M919.8 513.8l2.6-2.1M917.2 511.4l2.6-1.6" stroke="#0654a1" stroke-width="0.45" fill="none" stroke-linecap="round"/>
</svg>
</body></html>
